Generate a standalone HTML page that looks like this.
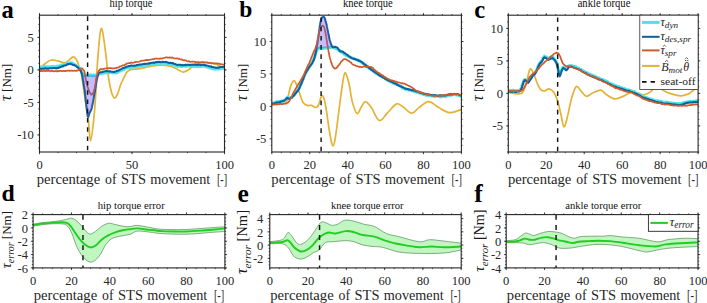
<!DOCTYPE html>
<html><head><meta charset="utf-8"><style>
html,body{margin:0;padding:0;background:#fff;}
svg{display:block;}
</style></head><body>
<svg width="707" height="303" viewBox="0 0 707 303" font-family="'Liberation Serif', serif">
<rect width="707" height="303" fill="#fff"/>
<clipPath id="clipa"><rect x="39.50" y="15.20" width="185.00" height="136.80"/></clipPath>
<clipPath id="clipb"><rect x="271.80" y="15.20" width="189.60" height="136.80"/></clipPath>
<clipPath id="clipc"><rect x="508.30" y="15.20" width="189.80" height="136.80"/></clipPath>
<clipPath id="clipd"><rect x="33.10" y="214.60" width="191.80" height="53.30"/></clipPath>
<clipPath id="clipe"><rect x="269.80" y="214.60" width="191.40" height="53.30"/></clipPath>
<clipPath id="clipf"><rect x="506.20" y="214.60" width="191.80" height="53.30"/></clipPath>
<path d="M39.60,68.40 C40.50,67.63 43.07,65.20 45.00,63.80 C46.93,62.40 49.07,60.48 51.20,60.00 C53.33,59.52 55.55,60.42 57.80,60.90 C60.05,61.38 62.88,62.98 64.70,62.90 C66.52,62.82 67.30,61.40 68.70,60.40 C70.10,59.40 71.78,56.98 73.10,56.90 C74.42,56.82 75.60,58.25 76.60,59.90 C77.60,61.55 78.27,64.17 79.10,66.80 C79.93,69.43 80.70,71.00 81.60,75.70 C82.50,80.40 83.38,87.62 84.50,95.00 C85.62,102.38 87.28,112.37 88.30,120.00 C89.32,127.63 89.70,140.80 90.60,140.80 C91.50,140.80 92.85,127.63 93.70,120.00 C94.55,112.37 95.13,103.60 95.70,95.00 C96.27,86.40 96.72,74.95 97.10,68.40 C97.48,61.85 97.62,60.47 98.00,55.70 C98.38,50.93 99.02,43.72 99.40,39.80 C99.78,35.88 99.95,34.10 100.30,32.20 C100.65,30.30 101.10,28.40 101.50,28.40 C101.90,28.40 102.30,30.30 102.70,32.20 C103.10,34.10 103.35,35.88 103.90,39.80 C104.45,43.72 105.43,51.00 106.00,55.70 C106.57,60.40 106.87,64.28 107.30,68.00 C107.73,71.72 108.08,74.72 108.60,78.00 C109.12,81.28 109.75,84.82 110.40,87.70 C111.05,90.58 111.82,93.57 112.50,95.30 C113.18,97.03 113.70,98.22 114.50,98.10 C115.30,97.98 116.25,96.92 117.30,94.60 C118.35,92.28 119.87,86.67 120.80,84.20 C121.73,81.73 121.93,81.77 122.90,79.80 C123.87,77.83 125.37,74.10 126.60,72.40 C127.83,70.70 128.73,70.15 130.30,69.60 C131.87,69.05 134.38,69.27 136.00,69.10 C137.62,68.93 138.50,68.85 140.00,68.60 C141.50,68.35 142.92,68.05 145.00,67.60 C147.08,67.15 149.72,66.32 152.50,65.90 C155.28,65.48 158.63,65.02 161.70,65.10 C164.77,65.18 168.52,65.82 170.90,66.40 C173.28,66.98 174.65,67.97 176.00,68.60 C177.35,69.23 177.73,69.60 179.00,70.20 C180.27,70.80 181.92,72.33 183.60,72.20 C185.28,72.07 187.42,70.55 189.10,69.40 C190.78,68.25 192.47,66.33 193.70,65.30 C194.93,64.27 194.48,63.65 196.50,63.20 C198.52,62.75 202.72,62.48 205.80,62.60 C208.88,62.72 212.68,63.30 215.00,63.90 C217.32,64.50 218.12,65.28 219.70,66.20 C221.28,67.12 223.70,68.87 224.50,69.40" stroke="#e5b235" stroke-width="1.70" fill="none" stroke-linejoin="round" stroke-linecap="round" clip-path="url(#clipa)"/>
<path d="M39.60,67.04 L40.17,67.32 L40.95,67.11 L41.87,67.30 L42.88,67.27 L43.93,66.66 L44.96,66.56 L45.90,67.34 L46.78,66.72 L47.67,66.65 L48.54,67.37 L49.42,66.80 L50.28,67.12 L51.15,66.72 L52.00,66.84 L52.85,66.32 L53.70,66.78 L54.55,67.00 L55.39,66.64 L56.21,66.81 L57.02,66.68 L57.80,65.96 L58.67,66.48 L59.49,66.09 L60.29,65.55 L61.10,65.01 L61.92,65.55 L62.80,64.87 L63.61,64.85 L64.48,64.70 L65.37,64.20 L66.26,64.09 L67.13,63.27 L67.95,63.45 L68.70,62.94 L69.62,63.35 L70.44,63.32 L71.20,62.65 L71.94,62.88 L72.70,63.22 L73.50,64.30 L74.31,64.21 L75.11,64.89 L75.88,65.09 L76.60,65.81 L77.27,66.18 L77.89,66.64 L78.49,67.39 L79.05,67.95 L79.60,68.90 L80.12,69.43 L80.62,70.52 L81.10,71.32 L81.56,72.28 L82.00,72.67 L82.55,73.13 L83.05,74.60 L84.00,75.26 L84.64,75.37 L85.41,75.13 L86.27,75.34 L87.18,74.87 L88.13,75.50 L89.08,75.25 L90.00,74.98 L90.82,74.79 L91.69,75.61 L92.59,75.78 L93.48,74.90 L94.35,75.62 L95.16,75.22 L95.89,74.92 L96.50,74.99 L97.56,75.07 L98.14,74.62 L98.80,73.34 L99.70,73.70 L100.66,73.01 L101.70,73.52 L102.53,72.91 L103.39,73.19 L104.31,73.04 L105.30,72.41 L106.17,72.87 L107.11,72.21 L108.08,72.04 L109.06,72.64 L110.00,72.13 L110.93,72.37 L111.86,72.69 L112.78,72.99 L113.67,72.58 L114.50,72.44 L115.44,73.11 L116.29,72.30 L117.12,72.62 L118.00,72.20 L118.76,71.36 L119.55,71.08 L120.34,70.76 L121.13,70.50 L121.90,70.10 L122.82,69.64 L123.71,69.28 L124.59,69.21 L125.50,68.41 L126.41,67.98 L127.33,67.93 L128.28,67.16 L129.30,67.00 L130.11,67.59 L130.90,67.13 L131.75,67.17 L132.76,66.61 L134.00,66.92 L134.67,67.00 L135.40,66.34 L136.18,66.82 L137.01,66.71 L137.87,66.00 L138.76,66.43 L139.66,66.13 L140.56,66.19 L141.46,65.72 L142.34,65.94 L143.20,65.84 L144.04,64.99 L144.89,64.90 L145.73,65.39 L146.58,65.54 L147.43,64.70 L148.27,64.77 L149.12,64.78 L149.97,64.38 L150.81,64.30 L151.66,64.13 L152.50,64.07 L153.34,64.18 L154.18,63.75 L155.02,63.70 L155.85,63.96 L156.69,63.08 L157.52,63.50 L158.36,63.56 L159.19,63.04 L160.03,62.88 L160.86,63.42 L161.70,62.84 L162.54,62.80 L163.40,63.09 L164.27,63.42 L165.13,62.91 L166.00,63.23 L166.86,63.36 L167.71,63.98 L168.54,63.72 L169.36,64.28 L170.14,63.73 L170.90,64.04 L171.77,64.54 L172.58,64.99 L173.34,64.80 L174.08,64.82 L174.81,64.96 L175.55,65.61 L176.31,65.48 L177.13,66.27 L178.00,66.44 L178.76,65.85 L179.56,65.99 L180.38,66.54 L181.22,66.38 L182.08,66.53 L182.96,66.05 L183.83,65.81 L184.71,65.94 L185.59,66.42 L186.45,65.88 L187.30,65.95 L188.14,66.02 L188.98,66.01 L189.81,66.00 L190.65,66.50 L191.48,65.73 L192.32,65.57 L193.15,66.51 L193.99,66.44 L194.82,66.56 L195.66,66.02 L196.50,66.55 L197.34,66.55 L198.19,65.86 L199.03,66.40 L199.88,66.51 L200.73,66.36 L201.57,66.24 L202.42,66.05 L203.27,66.16 L204.11,66.12 L204.96,66.05 L205.80,66.69 L206.66,66.54 L207.54,67.25 L208.43,66.71 L209.33,67.82 L210.23,67.86 L211.11,68.35 L211.97,68.58 L212.80,68.81 L213.58,68.69 L214.32,68.29 L215.00,69.15 L216.08,68.68 L217.00,68.81 L217.79,69.11 L218.53,68.86 L219.24,68.62 L220.00,69.04 L221.00,68.57 L222.05,68.12 L223.05,67.84 L223.90,68.28 L224.50,67.78" stroke="#4fe3e6" stroke-width="3.00" fill="none" stroke-linejoin="round" stroke-linecap="round" clip-path="url(#clipa)"/>
<path d="M39.60,68.69 L40.17,68.76 L40.95,68.79 L41.87,68.88 L42.88,68.72 L43.93,68.83 L44.96,68.19 L45.90,68.48 L46.78,68.79 L47.67,68.56 L48.54,68.71 L49.42,68.13 L50.28,68.35 L51.15,68.16 L52.00,68.33 L52.85,68.33 L53.70,67.92 L54.55,68.05 L55.39,68.08 L56.21,68.48 L57.02,68.30 L57.80,67.76 L58.67,68.01 L59.49,67.31 L60.29,67.36 L61.10,66.71 L61.92,66.29 L62.80,66.56 L63.61,65.77 L64.48,65.38 L65.37,65.51 L66.26,65.02 L67.13,64.25 L67.95,64.42 L68.70,63.93 L69.62,63.91 L70.44,63.59 L71.20,64.23 L71.94,64.27 L72.70,64.73 L73.50,65.03 L74.31,65.08 L75.11,65.64 L75.88,66.05 L76.60,66.55 L77.43,67.06 L78.20,67.77 L78.92,68.60 L79.60,68.95 L80.03,69.99 L80.43,70.32 L80.82,70.93 L81.19,72.03 L81.55,72.72 L81.90,73.77 L82.05,74.49 L82.20,75.33 L82.35,75.62 L82.50,77.06 L82.64,77.23 L82.78,78.61 L82.93,79.56 L83.06,79.87 L83.20,81.30 L83.33,81.87 L83.45,82.85 L83.57,83.24 L83.69,84.01 L83.80,84.78 L83.98,86.34 L84.13,86.70 L84.28,87.87 L84.41,88.73 L84.53,89.46 L84.65,89.79 L84.77,90.64 L84.90,91.72 L84.98,92.59 L85.06,92.83 L85.13,94.01 L85.20,94.79 L85.27,95.60 L85.34,95.81 L85.42,97.27 L85.50,97.52 L85.58,98.59 L85.68,99.70 L85.78,100.88 L85.90,101.49 L85.99,102.63 L86.08,103.17 L86.18,103.88 L86.28,104.80 L86.39,105.66 L86.51,106.58 L86.62,107.64 L86.74,109.02 L86.86,110.24 L86.98,110.63 L87.11,111.49 L87.23,113.05 L87.35,113.58 L87.46,114.26 L87.58,114.84 L87.69,115.69 L87.80,116.35 L87.90,116.47 L88.31,116.91 L88.68,115.71 L89.06,114.74 L89.50,112.67 L89.79,112.40 L90.09,112.11 L90.40,111.06 L90.73,110.84 L91.07,110.20 L91.43,108.94 L91.80,107.70 L91.94,106.66 L92.08,106.27 L92.22,105.41 L92.37,105.18 L92.52,104.04 L92.68,103.36 L92.84,102.93 L93.00,101.98 L93.16,101.21 L93.32,99.97 L93.48,99.11 L93.64,98.39 L93.80,97.34 L93.95,96.33 L94.10,95.55 L94.25,94.53 L94.40,93.87 L94.54,93.51 L94.67,92.74 L94.80,91.79 L94.96,90.78 L95.12,89.76 L95.26,88.70 L95.41,87.95 L95.54,87.44 L95.67,86.66 L95.80,85.48 L95.92,84.97 L96.05,84.18 L96.17,83.36 L96.29,82.60 L96.42,81.95 L96.54,80.99 L96.67,80.57 L96.80,79.65 L97.04,78.68 L97.28,77.86 L97.51,76.86 L97.74,75.73 L97.98,75.42 L98.24,74.52 L98.51,73.87 L98.80,72.96 L99.67,72.57 L100.65,72.19 L101.70,72.32 L102.53,71.87 L103.39,71.79 L104.31,71.39 L105.30,71.31 L106.17,70.95 L107.11,71.18 L108.08,71.32 L109.06,71.46 L110.00,71.20 L110.93,71.62 L111.86,71.74 L112.78,71.71 L113.67,71.96 L114.50,71.92 L115.44,71.45 L116.29,71.20 L117.12,70.62 L118.00,70.74 L118.76,70.49 L119.55,69.80 L120.34,69.57 L121.13,69.21 L121.90,68.86 L122.82,68.05 L123.71,68.06 L124.59,67.52 L125.50,67.22 L126.41,66.69 L127.33,66.50 L128.28,66.31 L129.30,66.00 L130.11,65.97 L130.90,65.47 L131.75,65.58 L132.76,65.76 L134.00,65.81 L134.67,65.42 L135.40,65.65 L136.18,65.50 L137.01,64.96 L137.87,65.12 L138.76,64.81 L139.66,64.55 L140.56,64.46 L141.46,64.44 L142.34,64.21 L143.20,64.09 L144.04,63.85 L144.89,64.02 L145.73,63.83 L146.58,63.86 L147.43,63.71 L148.27,63.33 L149.12,63.67 L149.97,62.91 L150.81,63.07 L151.66,62.86 L152.50,62.84 L153.34,62.51 L154.18,62.88 L155.02,62.43 L155.85,62.06 L156.69,62.34 L157.52,61.85 L158.36,62.06 L159.19,61.82 L160.03,61.92 L160.86,62.14 L161.70,62.02 L162.54,61.76 L163.40,62.07 L164.27,62.02 L165.13,61.91 L166.00,61.86 L166.86,62.29 L167.71,62.39 L168.54,62.80 L169.36,62.95 L170.14,62.84 L170.90,62.80 L171.77,63.36 L172.58,62.96 L173.34,63.27 L174.08,63.84 L174.81,64.12 L175.55,64.03 L176.31,64.58 L177.13,64.94 L178.00,64.71 L178.76,64.82 L179.56,64.72 L180.38,64.79 L181.22,65.27 L182.08,64.84 L182.96,65.23 L183.83,65.17 L184.71,64.92 L185.59,64.66 L186.45,65.14 L187.30,64.80 L188.14,64.74 L188.98,64.67 L189.81,65.13 L190.65,64.77 L191.48,64.62 L192.32,64.75 L193.15,64.50 L193.99,64.85 L194.82,64.73 L195.66,64.64 L196.50,65.00 L197.34,65.05 L198.19,64.50 L199.03,64.87 L199.88,64.71 L200.73,65.20 L201.57,65.12 L202.42,64.79 L203.27,64.86 L204.11,64.85 L204.96,65.53 L205.80,65.16 L206.66,65.53 L207.54,65.63 L208.43,65.97 L209.33,66.19 L210.23,66.54 L211.11,66.36 L211.97,67.06 L212.80,66.97 L213.58,67.34 L214.32,67.37 L215.00,67.46 L216.08,67.73 L217.00,67.69 L217.79,67.55 L218.53,67.70 L219.24,67.47 L220.00,66.98 L221.00,66.99 L222.05,66.95 L223.05,67.08 L223.90,66.89 L224.50,66.53" stroke="#105e9e" stroke-width="2.00" fill="none" stroke-linejoin="round" stroke-linecap="round" clip-path="url(#clipa)"/>
<path d="M39.60,70.98 L40.10,70.86 L40.74,71.21 L41.48,70.80 L42.31,71.13 L43.22,71.01 L44.18,70.79 L45.17,71.11 L46.18,70.78 L47.18,71.05 L48.17,70.80 L49.11,70.81 L50.00,71.05 L50.85,71.33 L51.69,70.84 L52.53,70.91 L53.36,71.20 L54.20,71.43 L55.02,71.17 L55.85,71.05 L56.68,71.46 L57.51,70.80 L58.34,71.37 L59.17,70.96 L60.00,70.85 L60.84,70.82 L61.69,70.93 L62.56,71.27 L63.42,70.80 L64.29,71.05 L65.15,71.07 L66.00,70.85 L66.84,70.94 L67.67,70.58 L68.47,70.55 L69.25,70.62 L70.00,70.93 L70.98,70.72 L71.95,70.63 L72.90,70.80 L73.83,70.70 L74.71,70.58 L75.54,70.89 L76.31,70.79 L77.00,70.41 L77.60,70.55 L78.81,70.08 L79.45,69.75 L80.00,69.16 L80.86,68.33 L81.60,68.64 L82.31,68.43 L83.00,69.44 L83.50,70.21 L84.00,70.47 L84.50,71.99 L84.64,72.25 L84.78,73.37 L84.91,74.18 L85.03,74.86 L85.16,75.92 L85.29,76.41 L85.43,77.56 L85.58,78.38 L85.73,79.23 L85.90,79.97 L86.08,81.05 L86.28,81.96 L86.48,82.48 L86.69,83.46 L86.91,83.88 L87.13,85.16 L87.36,85.92 L87.58,86.94 L87.79,87.55 L88.00,87.85 L88.34,88.97 L88.68,90.13 L89.02,90.56 L89.35,91.66 L89.68,92.16 L90.00,92.73 L90.62,93.67 L91.21,94.77 L91.80,94.44 L92.39,94.01 L92.97,93.11 L93.50,92.26 L93.77,91.07 L94.02,90.72 L94.25,90.07 L94.50,89.33 L94.80,87.92 L94.92,87.33 L95.04,86.20 L95.17,85.51 L95.29,84.61 L95.43,84.07 L95.56,83.19 L95.70,81.67 L95.84,80.73 L95.99,79.81 L96.14,78.89 L96.30,78.18 L96.46,77.41 L96.63,76.42 L96.80,75.55 L97.10,74.77 L97.40,73.77 L97.70,73.03 L98.03,72.50 L98.38,71.61 L98.76,70.86 L99.20,70.37 L99.70,69.92 L100.37,69.05 L101.13,69.35 L101.96,69.09 L102.82,69.05 L103.69,68.94 L104.52,68.60 L105.30,68.53 L106.30,68.21 L107.25,68.52 L108.18,68.10 L109.09,68.10 L110.00,68.20 L110.93,68.20 L111.86,68.40 L112.78,68.28 L113.67,68.29 L114.50,68.36 L115.44,68.15 L116.29,68.07 L117.12,67.51 L118.00,67.76 L118.76,67.29 L119.55,66.65 L120.34,66.38 L121.13,66.11 L121.90,65.80 L122.82,65.25 L123.71,65.38 L124.59,65.10 L125.50,64.38 L126.23,64.10 L126.96,63.54 L127.71,63.28 L128.48,63.20 L129.30,62.94 L130.11,63.19 L130.90,62.64 L131.75,62.47 L132.76,63.01 L134.00,62.52 L134.67,62.13 L135.40,62.26 L136.18,61.73 L137.01,61.90 L137.87,62.03 L138.76,61.76 L139.66,61.45 L140.56,60.95 L141.46,60.84 L142.34,60.53 L143.20,60.79 L144.04,60.47 L144.89,60.50 L145.73,60.05 L146.58,59.84 L147.43,60.12 L148.27,60.11 L149.12,59.90 L149.97,59.75 L150.81,59.64 L151.66,59.47 L152.50,59.01 L153.35,59.11 L154.20,58.90 L155.06,58.59 L155.93,58.51 L156.79,58.60 L157.65,58.51 L158.49,58.74 L159.32,58.85 L160.14,58.42 L160.93,58.69 L161.70,58.64 L162.61,58.51 L163.48,57.97 L164.34,57.74 L165.17,57.61 L165.98,57.46 L166.77,57.36 L167.56,57.57 L168.33,57.70 L169.10,57.64 L169.96,57.41 L170.81,57.61 L171.66,57.82 L172.48,57.46 L173.28,58.01 L174.06,58.33 L174.80,58.38 L175.50,58.48 L176.48,58.42 L177.30,58.30 L178.09,58.83 L178.95,58.66 L180.00,59.21 L180.68,59.51 L181.40,59.32 L182.16,59.57 L182.95,60.22 L183.77,60.33 L184.62,60.21 L185.50,60.43 L186.39,60.67 L187.30,61.38 L188.06,61.44 L188.86,61.09 L189.67,61.67 L190.50,61.87 L191.35,61.72 L192.20,61.58 L193.07,61.79 L193.93,61.56 L194.80,61.54 L195.65,62.27 L196.50,62.10 L197.34,62.08 L198.19,62.41 L199.03,62.11 L199.88,62.45 L200.73,62.46 L201.57,62.07 L202.42,62.13 L203.27,62.20 L204.11,62.21 L204.96,62.50 L205.80,62.33 L206.64,62.51 L207.47,62.37 L208.31,62.99 L209.14,62.67 L209.97,62.82 L210.80,62.99 L211.64,63.30 L212.47,63.05 L213.31,63.49 L214.15,63.30 L215.00,63.42 L215.81,63.52 L216.68,63.28 L217.58,63.71 L218.50,63.66 L219.42,63.67 L220.32,64.37 L221.20,64.06 L222.03,64.40 L222.79,64.69 L223.46,64.68 L224.04,64.61 L224.50,64.81" stroke="#cf5a2a" stroke-width="1.70" fill="none" stroke-linejoin="round" stroke-linecap="round" clip-path="url(#clipa)"/>
<path d="M272.00,104.60 C273.87,104.45 280.70,104.38 283.20,103.70 C285.70,103.02 285.77,103.38 287.00,100.50 C288.23,97.62 289.45,89.72 290.60,86.40 C291.75,83.08 292.93,80.92 293.90,80.60 C294.87,80.28 295.43,82.33 296.40,84.50 C297.37,86.67 298.62,90.65 299.70,93.60 C300.78,96.55 301.65,100.23 302.90,102.20 C304.15,104.17 305.77,104.87 307.20,105.40 C308.63,105.93 310.07,105.05 311.50,105.40 C312.93,105.75 314.62,107.57 315.80,107.50 C316.98,107.43 317.82,106.50 318.60,105.00 C319.38,103.50 319.90,100.08 320.50,98.50 C321.10,96.92 321.62,95.50 322.20,95.50 C322.78,95.50 323.37,96.42 324.00,98.50 C324.63,100.58 325.25,103.58 326.00,108.00 C326.75,112.42 327.70,119.83 328.50,125.00 C329.30,130.17 330.07,135.50 330.80,139.00 C331.53,142.50 332.18,146.00 332.90,146.00 C333.62,146.00 334.33,143.00 335.10,139.00 C335.87,135.00 336.68,128.17 337.50,122.00 C338.32,115.83 339.07,109.00 340.00,102.00 C340.93,95.00 342.27,84.88 343.10,80.00 C343.93,75.12 344.27,73.03 345.00,72.70 C345.73,72.37 346.75,75.78 347.50,78.00 C348.25,80.22 348.70,82.02 349.50,86.00 C350.30,89.98 351.05,97.32 352.30,101.90 C353.55,106.48 355.45,112.72 357.00,113.50 C358.55,114.28 360.20,108.58 361.60,106.60 C363.00,104.62 363.80,101.48 365.40,101.60 C367.00,101.72 368.90,104.15 371.20,107.30 C373.50,110.45 376.52,119.53 379.20,120.50 C381.88,121.47 384.40,115.87 387.30,113.10 C390.20,110.33 393.90,104.87 396.60,103.90 C399.30,102.93 400.95,105.75 403.50,107.30 C406.05,108.85 409.33,113.15 411.90,113.20 C414.47,113.25 416.08,109.52 418.90,107.60 C421.72,105.68 425.50,101.70 428.80,101.70 C432.10,101.70 435.23,105.78 438.70,107.60 C442.17,109.42 445.88,112.27 449.60,112.60 C453.32,112.93 459.10,110.10 461.00,109.60" stroke="#e5b235" stroke-width="1.70" fill="none" stroke-linejoin="round" stroke-linecap="round" clip-path="url(#clipb)"/>
<path d="M272.00,102.94 L272.49,103.14 L273.13,102.83 L273.90,102.89 L274.76,102.73 L275.66,101.97 L276.58,101.72 L277.47,102.34 L278.30,101.56 L279.11,101.34 L279.97,101.91 L280.84,101.19 L281.70,101.36 L282.53,100.79 L283.31,100.73 L284.00,100.01 L284.60,100.23 L285.46,99.80 L286.00,98.66 L286.42,98.17 L286.90,97.67 L287.67,97.18 L288.43,98.38 L289.20,98.49 L289.96,98.00 L290.73,97.29 L291.50,97.57 L292.10,96.69 L292.70,96.38 L293.30,95.92 L293.90,95.11 L294.48,94.64 L295.06,93.38 L295.63,93.04 L296.20,91.94 L296.77,91.75 L297.35,91.04 L297.93,89.54 L298.50,88.74 L298.88,88.16 L299.27,88.20 L299.65,86.92 L300.03,86.31 L300.42,85.16 L300.80,84.51 L301.13,83.62 L301.46,82.78 L301.79,82.18 L302.11,81.33 L302.44,80.79 L302.77,79.72 L303.10,79.13 L303.43,78.22 L303.75,77.51 L304.07,76.35 L304.39,75.00 L304.72,74.88 L305.06,74.20 L305.40,73.40 L305.79,72.31 L306.16,71.80 L306.53,70.69 L306.94,70.66 L307.42,69.67 L308.00,68.48 L308.37,67.68 L308.80,67.84 L309.27,67.29 L309.76,65.67 L310.27,65.63 L310.78,64.49 L311.29,63.47 L311.77,62.86 L312.23,62.61 L312.64,62.02 L313.00,60.54 L313.46,60.16 L313.84,58.69 L314.15,58.50 L314.42,57.28 L314.67,57.01 L314.92,56.30 L315.20,55.01 L315.49,54.65 L315.76,53.07 L316.03,51.95 L316.30,51.62 L316.58,50.27 L316.87,49.75 L317.20,49.41 L318.07,48.89 L319.02,48.20 L320.00,47.94 L320.91,48.61 L321.84,47.99 L323.00,48.56 L323.74,48.44 L324.59,47.86 L325.50,47.89 L326.41,47.88 L327.26,47.93 L328.00,47.80 L329.17,47.52 L330.11,47.31 L331.00,47.44 L331.73,46.81 L332.40,46.62 L333.50,47.22 L334.04,47.00 L334.65,47.40 L335.33,48.49 L336.06,48.48 L336.82,48.99 L337.59,48.96 L338.35,49.87 L339.10,50.52 L339.80,50.42 L340.54,51.51 L341.25,52.03 L341.95,51.96 L342.64,53.03 L343.35,53.37 L344.09,54.08 L344.86,54.26 L345.70,55.11 L346.36,55.50 L347.06,55.16 L347.79,55.58 L348.54,56.57 L349.31,57.24 L350.09,56.90 L350.86,57.47 L351.61,57.95 L352.34,58.02 L353.04,58.37 L353.70,58.61 L354.66,59.06 L355.58,59.62 L356.44,59.60 L357.27,59.95 L358.07,60.61 L358.84,60.17 L359.60,61.07 L360.34,61.66 L361.05,61.70 L361.73,62.11 L362.39,63.19 L363.02,63.13 L363.62,63.55 L364.20,64.24 L364.90,65.00 L365.48,64.82 L366.05,65.45 L366.69,65.93 L367.50,67.03 L368.02,67.04 L368.55,67.88 L369.10,67.64 L369.68,68.29 L370.31,69.11 L370.99,69.88 L371.75,70.01 L372.58,70.39 L373.50,70.92 L374.07,71.71 L374.67,71.78 L375.31,72.81 L375.99,73.29 L376.68,73.09 L377.41,73.65 L378.15,74.65 L378.90,74.96 L379.67,75.61 L380.44,75.63 L381.21,75.89 L381.99,76.52 L382.76,77.49 L383.52,77.42 L384.27,77.93 L385.00,78.42 L385.73,78.83 L386.46,79.22 L387.20,80.13 L387.95,79.75 L388.70,79.99 L389.45,81.31 L390.20,81.62 L390.94,82.10 L391.69,81.91 L392.42,82.79 L393.15,83.12 L393.87,82.77 L394.57,83.64 L395.26,84.07 L395.94,84.23 L396.60,84.42 L397.45,84.62 L398.27,85.11 L399.07,85.42 L399.85,85.68 L400.61,86.61 L401.36,86.71 L402.10,87.62 L402.83,87.22 L403.56,88.44 L404.30,88.57 L405.04,89.12 L405.80,89.40 L406.63,89.70 L407.45,89.64 L408.27,89.31 L409.08,90.25 L409.90,89.87 L410.72,90.19 L411.54,90.73 L412.36,90.78 L413.20,90.86 L414.04,91.60 L414.90,91.51 L415.70,91.48 L416.50,91.64 L417.32,92.52 L418.14,92.41 L418.97,92.99 L419.80,92.84 L420.63,92.96 L421.47,93.57 L422.31,94.12 L423.14,93.72 L423.97,94.58 L424.80,94.92 L425.62,95.01 L426.45,95.22 L427.28,94.59 L428.10,95.38 L428.93,95.79 L429.75,95.13 L430.57,95.50 L431.40,95.64 L432.23,96.02 L433.05,96.03 L433.88,96.18 L434.70,96.58 L435.54,95.88 L436.42,95.99 L437.31,96.12 L438.22,96.15 L439.12,96.13 L440.02,97.05 L440.89,96.94 L441.74,96.17 L442.54,96.57 L443.29,96.37 L443.98,96.35 L444.60,96.35 L445.72,96.52 L446.44,96.26 L447.00,95.80 L447.64,95.39 L448.60,95.33 L449.33,95.02 L450.16,95.34 L451.07,95.38 L452.03,94.93 L453.01,94.52 L453.97,94.54 L454.90,94.68 L455.75,94.88 L456.50,95.08 L457.69,94.86 L458.76,95.61 L459.69,95.83 L460.44,95.99 L461.00,96.17" stroke="#4fe3e6" stroke-width="3.00" fill="none" stroke-linejoin="round" stroke-linecap="round" clip-path="url(#clipb)"/>
<path d="M272.00,103.79 L272.49,103.76 L273.13,103.66 L273.90,103.60 L274.76,103.27 L275.66,103.20 L276.58,102.37 L277.47,102.47 L278.30,102.61 L279.11,102.21 L279.97,102.20 L280.84,101.45 L281.70,101.50 L282.53,101.14 L283.31,101.13 L284.00,100.91 L284.60,100.26 L285.46,99.73 L286.00,98.98 L286.42,98.72 L286.90,98.19 L287.67,97.88 L288.43,98.83 L289.20,98.65 L289.96,98.78 L290.73,98.00 L291.50,97.35 L292.10,97.48 L292.70,96.45 L293.30,95.84 L293.90,95.74 L294.48,94.98 L295.06,93.84 L295.63,93.56 L296.20,92.53 L296.77,91.94 L297.35,90.95 L297.93,90.75 L298.50,89.73 L298.88,89.27 L299.27,88.51 L299.65,87.34 L300.03,86.59 L300.42,85.62 L300.80,84.75 L301.13,83.93 L301.46,83.29 L301.79,82.67 L302.11,81.39 L302.44,81.01 L302.77,79.92 L303.10,79.07 L303.43,78.59 L303.75,77.51 L304.07,76.55 L304.39,75.83 L304.72,75.17 L305.06,73.93 L305.40,73.83 L305.79,72.41 L306.16,72.26 L306.53,71.72 L306.94,70.50 L307.42,70.30 L308.00,69.11 L308.37,68.68 L308.80,67.65 L309.27,67.00 L309.76,66.38 L310.27,66.18 L310.78,64.90 L311.29,64.53 L311.77,63.91 L312.23,63.18 L312.64,62.06 L313.00,61.40 L313.41,60.66 L313.76,60.02 L314.06,58.77 L314.31,58.44 L314.54,57.70 L314.76,56.95 L314.97,55.55 L315.20,55.31 L315.38,53.99 L315.56,53.43 L315.72,52.88 L315.88,52.34 L316.03,51.17 L316.18,50.78 L316.33,49.70 L316.48,48.68 L316.64,47.80 L316.80,46.77 L316.93,45.96 L317.06,45.23 L317.19,44.80 L317.32,44.18 L317.46,42.75 L317.59,41.81 L317.72,41.59 L317.86,40.39 L317.99,39.42 L318.12,38.42 L318.25,37.79 L318.38,37.08 L318.50,35.97 L318.62,35.09 L318.74,33.95 L318.86,33.65 L318.98,32.12 L319.10,31.54 L319.22,30.87 L319.33,29.48 L319.45,29.03 L319.56,28.33 L319.67,27.29 L319.78,26.62 L319.89,25.41 L320.00,24.95 L320.19,23.60 L320.38,23.05 L320.56,21.73 L320.74,21.00 L320.92,20.63 L321.11,19.85 L321.30,19.33 L321.79,17.91 L322.29,17.32 L322.80,17.16 L323.56,16.95 L324.30,17.45 L324.65,18.17 L324.98,18.84 L325.30,19.96 L325.60,21.34 L325.81,22.04 L326.00,22.51 L326.19,23.17 L326.38,23.90 L326.60,24.71 L326.75,25.55 L326.91,26.67 L327.08,27.54 L327.26,28.04 L327.44,29.22 L327.62,30.13 L327.81,31.00 L328.00,31.91 L328.16,32.76 L328.32,33.31 L328.49,34.40 L328.66,34.98 L328.83,36.00 L329.01,37.07 L329.18,37.86 L329.36,38.40 L329.53,39.62 L329.70,40.10 L329.98,41.11 L330.27,41.66 L330.56,42.90 L330.84,43.48 L331.12,44.48 L331.40,44.97 L331.91,46.30 L332.40,46.95 L333.00,47.51 L333.77,47.13 L334.63,46.95 L335.50,46.87 L336.34,47.25 L337.17,47.48 L338.00,48.54 L338.60,49.27 L339.20,50.00 L339.80,51.03 L340.40,51.62 L341.20,51.60 L342.00,51.61 L342.90,51.57 L343.51,52.38 L344.16,52.89 L344.84,53.06 L345.53,53.73 L346.20,54.25 L346.85,54.75 L347.48,54.87 L348.12,55.81 L348.78,56.17 L349.50,56.72 L350.26,57.00 L351.03,57.59 L351.85,58.13 L352.74,58.46 L353.70,58.95 L354.47,58.77 L355.30,59.16 L356.18,59.64 L357.07,60.09 L357.96,60.09 L358.81,60.76 L359.60,61.09 L360.34,61.10 L361.05,61.87 L361.73,62.19 L362.39,62.58 L363.02,63.13 L363.62,63.74 L364.20,64.08 L364.90,64.59 L365.48,64.89 L366.05,65.60 L366.69,66.01 L367.50,66.78 L368.02,67.16 L368.55,67.34 L369.10,68.26 L369.68,68.10 L370.31,68.89 L370.99,69.34 L371.75,70.00 L372.58,70.39 L373.50,71.53 L374.07,71.59 L374.67,71.76 L375.31,72.59 L375.99,72.67 L376.68,73.44 L377.41,73.76 L378.15,74.41 L378.90,75.15 L379.67,75.54 L380.44,75.74 L381.21,76.49 L381.99,76.84 L382.76,77.11 L383.52,77.40 L384.27,78.15 L385.00,78.54 L385.73,79.22 L386.46,79.62 L387.20,79.76 L387.95,79.96 L388.70,80.71 L389.45,80.46 L390.20,80.89 L390.94,81.57 L391.69,81.96 L392.42,81.97 L393.15,82.66 L393.87,83.18 L394.57,83.15 L395.26,83.51 L395.94,83.69 L396.60,84.05 L397.45,84.95 L398.27,84.95 L399.07,85.77 L399.85,86.13 L400.61,86.30 L401.36,86.45 L402.10,87.33 L402.83,87.34 L403.56,87.63 L404.30,87.88 L405.04,88.65 L405.80,88.59 L406.63,88.73 L407.45,89.11 L408.27,89.07 L409.08,89.61 L409.90,89.66 L410.72,89.73 L411.54,90.23 L412.36,90.43 L413.20,90.04 L414.04,90.60 L414.90,90.64 L415.70,91.33 L416.50,91.47 L417.32,91.35 L418.14,91.63 L418.97,91.83 L419.80,92.69 L420.63,92.47 L421.47,92.96 L422.31,93.12 L423.14,93.48 L423.97,93.67 L424.80,93.97 L425.62,93.72 L426.45,94.34 L427.28,94.18 L428.10,94.49 L428.93,94.49 L429.75,94.60 L430.57,94.88 L431.40,94.94 L432.23,94.97 L433.05,95.33 L433.88,95.30 L434.70,94.98 L435.54,95.18 L436.42,95.36 L437.31,95.72 L438.22,95.71 L439.12,95.48 L440.02,95.10 L440.89,95.63 L441.74,95.36 L442.54,95.44 L443.29,95.51 L443.98,95.43 L444.60,95.29 L445.72,95.47 L446.44,94.94 L447.00,94.76 L447.64,94.90 L448.60,94.29 L449.33,94.28 L450.16,94.56 L451.07,93.93 L452.03,94.37 L453.01,94.19 L453.97,93.95 L454.90,93.81 L455.75,94.15 L456.50,94.29 L457.50,93.93 L458.42,94.45 L459.24,94.85 L459.96,95.18 L460.55,95.37 L461.00,95.46" stroke="#105e9e" stroke-width="2.00" fill="none" stroke-linejoin="round" stroke-linecap="round" clip-path="url(#clipb)"/>
<path d="M272.00,104.48 L272.48,104.33 L273.11,104.66 L273.86,104.23 L274.70,104.52 L275.59,104.37 L276.52,104.11 L277.46,104.38 L278.37,104.00 L279.22,104.22 L280.00,103.90 L280.91,103.83 L281.81,103.98 L282.69,104.18 L283.54,103.59 L284.36,103.54 L285.14,103.68 L285.85,103.73 L286.50,103.25 L287.36,102.75 L288.05,102.74 L288.63,101.58 L289.19,101.50 L289.80,100.25 L290.16,99.57 L290.50,98.91 L290.84,98.34 L291.18,97.93 L291.52,96.69 L291.88,96.14 L292.26,95.33 L292.66,94.28 L293.10,93.53 L293.45,92.53 L293.82,91.84 L294.21,91.24 L294.61,90.84 L295.02,89.93 L295.44,89.11 L295.87,88.55 L296.30,87.70 L296.73,86.85 L297.16,86.45 L297.58,85.66 L298.00,84.62 L298.42,84.15 L298.84,83.41 L299.28,82.95 L299.71,82.15 L300.15,81.15 L300.59,80.94 L301.02,79.65 L301.44,79.17 L301.85,78.72 L302.25,77.62 L302.64,77.17 L303.00,76.18 L303.41,75.80 L303.80,75.05 L304.16,74.10 L304.51,73.49 L304.85,72.29 L305.18,71.75 L305.50,70.88 L305.83,70.09 L306.16,69.23 L306.50,68.74 L306.88,68.00 L307.26,66.88 L307.64,66.25 L308.02,65.08 L308.40,64.78 L308.78,63.99 L309.15,63.46 L309.53,62.55 L309.90,61.35 L310.20,60.72 L310.51,60.20 L310.81,59.02 L311.11,58.58 L311.41,57.63 L311.71,56.83 L312.00,56.03 L312.30,55.76 L312.60,54.55 L312.90,53.88 L313.20,53.22 L313.51,52.81 L313.82,51.50 L314.14,51.01 L314.47,50.32 L314.79,49.80 L315.11,49.00 L315.42,48.27 L315.72,47.10 L316.00,46.45 L316.26,45.65 L316.50,45.27 L316.74,44.49 L316.94,43.09 L317.13,42.28 L317.30,41.48 L317.46,40.65 L317.60,40.00 L317.75,39.25 L317.89,38.21 L318.04,37.24 L318.20,36.74 L318.38,35.84 L318.56,35.08 L318.74,34.47 L318.91,33.40 L319.09,32.42 L319.26,31.68 L319.44,30.95 L319.62,29.81 L319.80,29.78 L320.23,28.54 L320.69,27.73 L321.12,27.02 L321.50,26.22 L322.02,25.77 L322.50,25.62 L323.16,26.06 L323.90,26.59 L324.10,27.13 L324.31,27.88 L324.52,28.58 L324.74,29.53 L324.96,30.22 L325.18,31.14 L325.39,32.23 L325.60,33.22 L325.74,34.11 L325.87,34.63 L326.00,36.01 L326.14,36.64 L326.27,37.15 L326.40,38.07 L326.53,39.00 L326.66,39.88 L326.80,40.58 L326.93,41.96 L327.06,42.91 L327.20,43.38 L327.34,44.22 L327.48,44.80 L327.62,45.67 L327.76,46.71 L327.91,47.53 L328.05,48.79 L328.19,49.17 L328.34,49.91 L328.48,51.37 L328.62,51.86 L328.76,52.34 L328.90,53.33 L329.10,53.96 L329.30,55.23 L329.49,56.40 L329.68,57.12 L329.88,57.78 L330.07,58.23 L330.28,59.05 L330.50,59.67 L330.76,60.97 L331.03,61.67 L331.31,62.70 L331.59,63.22 L331.89,63.92 L332.19,65.06 L332.50,65.84 L333.06,66.79 L333.64,67.68 L334.26,68.37 L334.90,68.67 L335.56,68.29 L336.25,68.17 L336.99,67.45 L337.80,66.37 L338.25,65.80 L338.75,65.26 L339.26,64.43 L339.79,63.87 L340.32,63.19 L340.84,62.02 L341.34,61.66 L341.80,61.14 L342.60,60.36 L343.31,59.49 L344.01,59.17 L344.80,59.11 L345.50,59.16 L346.24,59.36 L347.02,59.96 L347.84,60.57 L348.70,61.04 L349.27,61.18 L349.85,61.78 L350.45,62.42 L351.07,62.48 L351.71,63.46 L352.36,64.18 L353.02,64.58 L353.70,64.98 L354.51,65.18 L355.36,65.32 L356.23,66.05 L357.12,66.00 L357.98,66.55 L358.82,66.87 L359.60,66.63 L360.60,66.79 L361.53,67.24 L362.42,67.10 L363.29,66.69 L364.20,66.64 L365.16,66.59 L366.15,67.00 L367.13,66.80 L368.06,66.25 L368.90,66.73 L369.72,66.89 L370.36,66.77 L371.05,66.83 L372.00,67.53 L372.52,67.61 L373.05,67.96 L373.61,69.12 L374.21,69.44 L374.85,69.93 L375.56,70.83 L376.32,71.12 L377.17,72.09 L378.10,72.73 L378.67,72.69 L379.28,73.14 L379.92,73.61 L380.59,74.03 L381.29,74.75 L382.01,75.00 L382.75,75.60 L383.51,75.89 L384.27,76.92 L385.04,77.01 L385.82,77.55 L386.59,78.09 L387.36,78.74 L388.12,78.81 L388.87,79.54 L389.60,79.60 L390.39,79.97 L391.20,80.28 L392.04,80.24 L392.89,80.82 L393.75,80.91 L394.61,81.04 L395.46,81.83 L396.30,81.62 L397.12,82.04 L397.91,82.42 L398.66,82.49 L399.38,82.50 L400.04,82.80 L400.65,82.99 L401.20,83.30 L402.65,83.19 L403.46,83.64 L404.09,83.53 L405.00,83.84 L405.64,84.44 L406.32,84.54 L407.05,84.90 L407.81,85.39 L408.59,85.87 L409.37,85.93 L410.14,86.46 L410.90,86.80 L411.55,87.21 L412.19,87.76 L412.82,88.05 L413.46,88.57 L414.10,89.01 L414.76,89.81 L415.44,90.09 L416.15,90.66 L416.90,91.11 L417.60,90.98 L418.33,91.52 L419.07,92.12 L419.83,92.36 L420.61,92.18 L421.40,92.46 L422.22,92.97 L423.06,92.99 L423.92,93.37 L424.80,93.50 L425.55,94.12 L426.33,94.41 L427.13,94.68 L427.95,94.36 L428.78,94.94 L429.62,95.07 L430.47,94.88 L431.33,95.55 L432.18,95.74 L433.03,95.33 L433.87,95.94 L434.70,95.63 L435.53,95.74 L436.37,96.12 L437.22,96.01 L438.07,95.53 L438.93,95.68 L439.77,95.70 L440.62,95.52 L441.45,95.36 L442.27,95.38 L443.07,95.59 L443.85,95.03 L444.60,95.34 L445.56,95.16 L446.48,94.73 L447.36,94.80 L448.22,94.85 L449.06,94.62 L449.90,94.16 L450.74,94.68 L451.61,94.45 L452.50,94.53 L453.36,93.92 L454.30,94.06 L455.27,93.95 L456.26,94.54 L457.24,94.27 L458.18,94.26 L459.06,94.56 L459.83,94.98 L460.49,94.98 L461.00,94.63" stroke="#cf5a2a" stroke-width="1.70" fill="none" stroke-linejoin="round" stroke-linecap="round" clip-path="url(#clipb)"/>
<path d="M508.50,92.40 C509.42,92.58 512.10,93.27 514.00,93.50 C515.90,93.73 518.32,94.22 519.90,93.80 C521.48,93.38 522.33,93.30 523.50,91.00 C524.67,88.70 525.85,83.58 526.90,80.00 C527.95,76.42 528.95,71.08 529.80,69.50 C530.65,67.92 531.18,69.37 532.00,70.50 C532.82,71.63 533.82,74.13 534.70,76.30 C535.58,78.47 536.33,81.32 537.30,83.50 C538.27,85.68 539.28,88.15 540.50,89.40 C541.72,90.65 543.20,91.08 544.60,91.00 C546.00,90.92 547.35,88.63 548.90,88.90 C550.45,89.17 552.42,90.45 553.90,92.60 C555.38,94.75 556.65,98.28 557.80,101.80 C558.95,105.32 559.77,109.50 560.80,113.70 C561.83,117.90 562.85,126.68 564.00,127.00 C565.15,127.32 566.42,120.47 567.70,115.60 C568.98,110.73 570.27,102.65 571.70,97.80 C573.13,92.95 574.70,87.58 576.30,86.50 C577.90,85.42 579.63,89.67 581.30,91.30 C582.97,92.93 584.27,96.10 586.30,96.30 C588.33,96.50 591.08,93.53 593.50,92.50 C595.92,91.47 598.63,89.73 600.80,90.10 C602.97,90.47 604.17,93.25 606.50,94.70 C608.83,96.15 612.05,98.52 614.80,98.80 C617.55,99.08 620.27,97.50 623.00,96.40 C625.73,95.30 628.73,92.75 631.20,92.20 C633.67,91.65 635.87,92.65 637.80,93.10 C639.73,93.55 641.15,94.82 642.80,94.90 C644.45,94.98 646.20,94.32 647.70,93.60 C649.20,92.88 650.42,91.78 651.80,90.60 C653.18,89.42 654.63,87.18 656.00,86.50 C657.37,85.82 658.75,85.82 660.00,86.50 C661.25,87.18 661.60,89.37 663.50,90.60 C665.40,91.83 668.55,93.03 671.40,93.90 C674.25,94.77 677.75,95.80 680.60,95.80 C683.45,95.80 686.52,94.70 688.50,93.90 C690.48,93.10 690.92,92.15 692.50,91.00 C694.08,89.85 697.08,87.67 698.00,87.00" stroke="#e5b235" stroke-width="1.70" fill="none" stroke-linejoin="round" stroke-linecap="round" clip-path="url(#clipc)"/>
<path d="M508.50,90.14 L508.99,90.47 L509.65,90.33 L510.44,90.62 L511.32,90.70 L512.25,90.19 L513.20,90.19 L514.14,91.05 L515.03,90.49 L515.83,90.46 L516.50,91.20 L517.58,90.60 L518.47,90.89 L519.21,90.37 L519.87,90.21 L520.50,89.15 L520.87,89.10 L521.21,88.66 L521.51,87.54 L521.79,86.92 L522.06,85.99 L522.31,84.54 L522.55,84.45 L522.80,83.59 L523.18,82.30 L523.52,81.08 L523.84,81.06 L524.16,79.97 L524.50,79.72 L525.40,79.67 L526.30,80.01 L526.84,80.90 L527.38,81.22 L528.00,81.90 L528.45,81.21 L528.94,81.09 L529.46,80.26 L529.99,78.65 L530.50,77.94 L531.00,77.31 L531.51,77.32 L532.01,76.06 L532.51,75.55 L533.00,74.60 L533.55,74.30 L534.06,73.86 L534.62,73.35 L535.30,72.59 L535.60,72.01 L535.93,71.64 L536.28,70.62 L536.65,70.01 L537.03,69.03 L537.42,68.24 L537.80,67.01 L538.18,65.62 L538.54,65.50 L538.88,64.88 L539.20,64.20 L539.82,62.87 L540.37,62.34 L540.88,61.32 L541.39,61.45 L541.90,60.57 L542.40,59.43 L542.88,58.23 L543.36,58.06 L543.89,57.42 L544.50,56.09 L545.21,56.87 L546.00,56.94 L546.84,57.30 L547.68,58.01 L548.50,58.77 L549.31,58.76 L550.12,57.57 L550.93,57.71 L551.70,56.81 L552.40,57.42 L553.18,57.37 L553.87,58.55 L554.51,59.44 L555.10,59.81 L555.54,60.97 L555.94,60.98 L556.31,61.52 L556.66,62.91 L557.00,63.33 L557.20,64.21 L557.39,65.22 L557.57,66.28 L557.74,66.72 L557.90,67.50 L558.07,69.20 L558.23,69.47 L558.40,70.86 L558.66,72.00 L558.89,72.74 L559.13,73.93 L559.40,74.77 L559.70,75.14 L559.95,74.83 L560.22,74.19 L560.51,73.40 L560.81,72.74 L561.12,71.31 L561.41,70.33 L561.70,69.92 L562.16,68.49 L562.61,67.74 L563.07,67.84 L563.60,67.12 L564.20,67.45 L564.86,67.66 L565.56,68.78 L566.30,69.18 L566.91,68.24 L567.55,68.09 L568.21,67.23 L568.89,65.86 L569.60,65.93 L570.47,65.57 L571.35,65.84 L572.33,65.77 L573.50,66.51 L574.18,66.78 L574.92,66.35 L575.70,66.72 L576.52,67.70 L577.38,68.38 L578.24,68.09 L579.12,68.72 L580.00,69.29 L580.71,69.39 L581.44,69.82 L582.18,70.18 L582.93,70.66 L583.69,71.32 L584.45,71.46 L585.22,71.97 L585.98,72.78 L586.75,72.44 L587.50,73.37 L588.24,73.89 L588.96,73.81 L589.67,74.04 L590.38,74.94 L591.10,74.68 L591.83,74.94 L592.57,75.50 L593.35,76.09 L594.15,75.84 L595.00,76.42 L595.68,76.73 L596.39,77.53 L597.12,77.44 L597.87,78.17 L598.63,77.80 L599.41,78.29 L600.19,78.93 L600.98,79.49 L601.78,79.39 L602.57,79.50 L603.35,79.74 L604.13,80.49 L604.90,80.49 L605.66,81.46 L606.42,81.85 L607.18,81.56 L607.95,82.03 L608.71,82.94 L609.47,83.16 L610.23,83.70 L610.99,83.62 L611.75,83.77 L612.52,84.29 L613.28,85.14 L614.04,84.95 L614.80,85.35 L615.56,85.72 L616.32,86.00 L617.09,86.27 L617.85,87.04 L618.61,86.53 L619.37,86.62 L620.14,87.80 L620.90,87.97 L621.66,88.32 L622.42,88.00 L623.18,88.76 L623.94,88.98 L624.70,88.52 L625.52,89.32 L626.34,89.67 L627.15,89.75 L627.97,89.86 L628.79,89.88 L629.60,90.19 L630.41,90.34 L631.23,90.45 L632.05,91.25 L632.86,91.24 L633.68,92.08 L634.50,91.65 L635.25,92.83 L635.98,92.97 L636.70,93.56 L637.41,93.91 L638.12,94.30 L638.84,94.37 L639.56,94.21 L640.30,95.34 L641.06,95.16 L641.85,95.68 L642.66,96.43 L643.51,96.67 L644.40,96.91 L645.07,97.69 L645.77,97.62 L646.48,97.61 L647.22,97.78 L647.97,98.64 L648.73,98.51 L649.51,99.07 L650.30,98.89 L651.09,98.98 L651.89,99.56 L652.70,100.08 L653.50,99.66 L654.30,100.50 L655.10,100.85 L655.89,100.94 L656.67,101.16 L657.44,100.53 L658.20,101.33 L659.05,101.75 L659.91,101.11 L660.77,101.50 L661.64,101.66 L662.50,102.06 L663.37,102.10 L664.23,102.28 L665.09,102.70 L665.93,102.04 L666.77,102.20 L667.59,102.38 L668.40,102.47 L669.18,102.51 L669.95,103.51 L670.69,103.47 L671.40,102.79 L672.40,103.32 L673.35,103.24 L674.27,103.35 L675.15,103.48 L676.00,103.86 L676.82,103.86 L677.61,103.69 L678.39,103.55 L679.14,103.69 L679.88,103.47 L680.60,103.86 L681.52,103.89 L682.33,103.36 L683.08,102.81 L683.80,102.63 L684.53,102.53 L685.32,102.47 L686.19,102.39 L687.20,101.78 L687.92,102.09 L688.74,101.81 L689.63,101.52 L690.57,101.37 L691.54,101.40 L692.52,101.52 L693.50,101.16 L694.44,101.36 L695.34,101.07 L696.16,100.79 L696.89,101.03 L697.51,101.14 L698.00,100.47" stroke="#4fe3e6" stroke-width="3.00" fill="none" stroke-linejoin="round" stroke-linecap="round" clip-path="url(#clipc)"/>
<path d="M508.50,91.49 L508.99,91.59 L509.65,91.67 L510.44,91.82 L511.32,91.74 L512.25,91.92 L513.20,91.34 L514.14,91.69 L515.03,92.04 L515.83,91.83 L516.50,91.98 L517.58,91.36 L518.47,91.54 L519.21,91.22 L519.87,91.10 L520.50,90.55 L520.87,89.63 L521.21,89.09 L521.51,88.36 L521.79,87.97 L522.06,87.00 L522.31,85.73 L522.55,85.40 L522.80,84.25 L523.18,83.59 L523.52,82.29 L523.84,81.35 L524.16,81.25 L524.50,80.30 L525.40,80.09 L526.30,81.14 L526.84,81.74 L527.38,82.17 L528.00,82.92 L528.45,82.30 L528.94,81.78 L529.46,80.67 L529.99,80.36 L530.50,79.43 L531.00,78.92 L531.51,78.13 L532.01,76.98 L532.51,76.33 L533.00,75.57 L533.55,75.04 L534.06,74.67 L534.62,74.36 L535.30,73.57 L535.60,72.58 L535.93,72.36 L536.28,71.33 L536.65,70.45 L537.03,69.90 L537.42,68.74 L537.80,67.71 L538.18,66.94 L538.54,66.28 L538.88,65.10 L539.20,65.13 L539.82,63.47 L540.37,63.30 L540.88,62.85 L541.39,61.78 L541.90,61.70 L542.40,60.56 L542.88,59.72 L543.36,58.36 L543.89,57.61 L544.50,57.28 L545.21,57.89 L546.00,57.81 L546.84,58.83 L547.68,59.52 L548.50,59.81 L549.31,59.28 L550.12,58.93 L550.93,58.61 L551.70,58.46 L552.40,57.93 L553.18,58.72 L553.87,59.38 L554.51,60.21 L555.10,60.48 L555.54,61.78 L555.94,61.89 L556.31,62.83 L556.66,63.89 L557.00,65.09 L557.20,65.40 L557.39,66.61 L557.57,67.20 L557.74,67.93 L557.90,68.83 L558.07,69.60 L558.23,70.36 L558.40,71.15 L558.66,72.74 L558.89,74.21 L559.13,74.73 L559.40,75.43 L559.70,76.34 L559.95,75.76 L560.22,75.06 L560.51,74.10 L560.81,73.37 L561.12,72.53 L561.41,71.37 L561.70,70.65 L562.16,69.44 L562.61,69.23 L563.07,68.04 L563.60,68.10 L564.20,68.64 L564.86,68.89 L565.56,70.03 L566.30,70.41 L566.91,69.81 L567.55,69.18 L568.21,67.83 L568.89,67.26 L569.60,66.55 L570.47,66.84 L571.35,66.52 L572.33,66.88 L573.50,67.65 L574.18,67.79 L574.92,68.16 L575.70,68.13 L576.52,68.52 L577.38,69.08 L578.24,69.32 L579.12,69.62 L580.00,70.13 L580.71,70.32 L581.44,70.87 L582.18,71.71 L582.93,72.11 L583.69,72.31 L584.45,72.66 L585.22,72.98 L585.98,73.22 L586.75,73.76 L587.50,74.50 L588.24,74.92 L588.96,74.90 L589.67,75.52 L590.38,75.83 L591.10,76.08 L591.83,76.37 L592.57,76.75 L593.35,76.80 L594.15,77.38 L595.00,77.45 L595.68,77.88 L596.39,78.38 L597.12,78.63 L597.87,78.67 L598.63,79.44 L599.41,79.55 L600.19,79.83 L600.98,79.77 L601.78,80.47 L602.57,80.60 L603.35,81.24 L604.13,81.43 L604.90,82.02 L605.66,82.25 L606.42,82.72 L607.18,82.77 L607.95,83.36 L608.71,83.80 L609.47,84.25 L610.23,84.29 L610.99,85.01 L611.75,85.40 L612.52,85.63 L613.28,86.18 L614.04,86.50 L614.80,86.51 L615.56,86.82 L616.32,86.85 L617.09,87.59 L617.85,87.92 L618.61,87.86 L619.37,88.25 L620.14,88.51 L620.90,88.76 L621.66,88.60 L622.42,89.26 L623.18,89.36 L623.94,89.67 L624.70,89.74 L625.52,90.16 L626.34,90.52 L627.15,90.68 L627.97,91.00 L628.79,90.76 L629.60,91.11 L630.41,91.57 L631.23,91.99 L632.05,91.97 L632.86,92.59 L633.68,92.86 L634.50,92.78 L635.25,93.41 L635.98,93.58 L636.70,93.82 L637.41,94.26 L638.12,94.77 L638.84,95.07 L639.56,95.48 L640.30,95.77 L641.06,96.47 L641.85,96.80 L642.66,97.35 L643.51,97.70 L644.40,97.82 L645.07,98.54 L645.77,98.16 L646.48,98.70 L647.22,98.87 L647.97,99.22 L648.73,99.26 L649.51,100.02 L650.30,99.95 L651.09,99.96 L651.89,100.60 L652.70,100.48 L653.50,101.02 L654.30,101.10 L655.10,101.48 L655.89,101.96 L656.67,102.06 L657.44,101.97 L658.20,102.42 L659.05,102.49 L659.91,102.47 L660.77,102.48 L661.64,102.95 L662.50,103.08 L663.37,103.49 L664.23,103.63 L665.09,103.50 L665.93,103.44 L666.77,103.92 L667.59,103.40 L668.40,103.58 L669.18,103.99 L669.95,104.11 L670.69,103.87 L671.40,104.29 L672.40,104.59 L673.35,104.34 L674.27,104.48 L675.15,104.43 L676.00,104.56 L676.82,105.11 L677.61,104.74 L678.39,105.18 L679.14,105.15 L679.88,104.91 L680.60,104.63 L681.52,105.01 L682.33,104.48 L683.08,104.17 L683.80,103.82 L684.53,104.00 L685.32,103.36 L686.19,102.96 L687.20,102.88 L687.92,102.53 L688.74,102.77 L689.63,102.55 L690.57,102.35 L691.54,102.60 L692.52,102.55 L693.50,101.90 L694.44,102.19 L695.34,101.95 L696.16,102.35 L696.89,102.19 L697.51,101.76 L698.00,101.74" stroke="#105e9e" stroke-width="2.00" fill="none" stroke-linejoin="round" stroke-linecap="round" clip-path="url(#clipc)"/>
<path d="M508.50,90.68 L509.00,90.61 L509.68,91.04 L510.48,90.73 L511.37,91.15 L512.31,91.12 L513.27,90.97 L514.20,91.31 L515.03,91.00 L515.91,91.32 L516.84,91.12 L517.77,91.16 L518.69,91.37 L519.59,91.55 L520.43,90.86 L521.20,90.61 L521.82,90.49 L522.39,90.23 L522.93,89.41 L523.43,88.65 L523.91,88.37 L524.39,87.00 L524.85,86.81 L525.32,85.64 L525.80,84.75 L526.19,84.06 L526.56,83.48 L526.91,83.08 L527.26,81.85 L527.60,81.32 L527.95,80.56 L528.31,79.56 L528.69,78.90 L529.10,77.80 L529.53,77.07 L530.00,76.49 L530.51,76.20 L531.05,75.43 L531.63,74.80 L532.22,74.46 L532.84,73.85 L533.46,73.24 L534.10,73.08 L534.74,72.50 L535.37,71.65 L535.99,71.33 L536.60,70.72 L537.15,70.40 L537.70,69.72 L538.25,68.81 L538.80,68.68 L539.35,67.46 L539.90,67.04 L540.45,66.66 L541.00,65.61 L541.55,65.24 L542.10,64.32 L542.65,64.18 L543.20,63.69 L543.81,62.95 L544.44,62.56 L545.07,61.57 L545.71,61.25 L546.35,60.61 L546.98,60.03 L547.60,59.40 L548.19,59.15 L548.76,58.72 L549.30,57.92 L549.80,57.61 L550.61,56.46 L551.32,56.27 L551.96,55.66 L552.54,55.40 L553.12,54.83 L553.70,54.05 L554.58,53.56 L555.42,53.29 L556.23,52.56 L557.00,52.87 L557.72,52.97 L558.39,53.49 L559.05,54.25 L559.70,55.79 L560.03,56.00 L560.35,56.88 L560.68,57.86 L561.00,59.13 L561.32,59.51 L561.65,60.66 L561.97,61.55 L562.30,62.47 L562.80,63.31 L563.28,64.07 L563.78,64.26 L564.34,64.87 L565.00,65.30 L565.65,66.01 L566.37,66.32 L567.14,65.97 L567.94,66.18 L568.77,66.41 L569.60,66.61 L570.45,67.00 L571.32,67.28 L572.22,67.25 L573.12,67.27 L574.02,67.79 L574.90,68.01 L575.73,68.41 L576.53,68.94 L577.31,69.03 L578.13,69.23 L579.01,69.69 L580.00,70.22 L580.65,70.15 L581.35,71.16 L582.07,71.54 L582.83,72.11 L583.60,72.56 L584.38,72.80 L585.17,73.31 L585.96,73.58 L586.74,74.40 L587.50,74.39 L588.32,74.77 L589.12,75.18 L589.91,75.42 L590.70,75.80 L591.50,75.84 L592.32,76.06 L593.17,76.44 L594.06,76.73 L595.00,77.30 L595.68,77.37 L596.39,78.29 L597.12,78.45 L597.87,78.49 L598.63,78.94 L599.41,79.39 L600.19,79.80 L600.98,80.03 L601.78,80.94 L602.57,81.45 L603.35,81.48 L604.13,81.90 L604.90,82.01 L605.66,82.42 L606.42,82.99 L607.18,83.35 L607.95,84.16 L608.71,84.12 L609.47,84.44 L610.23,85.51 L610.99,85.63 L611.75,85.77 L612.52,86.44 L613.28,86.46 L614.04,87.17 L614.80,87.83 L615.56,88.08 L616.32,88.27 L617.09,88.27 L617.85,88.63 L618.61,88.76 L619.37,89.45 L620.14,89.54 L620.90,89.96 L621.66,89.90 L622.42,90.07 L623.18,90.72 L623.94,91.09 L624.70,91.25 L625.52,91.48 L626.34,91.73 L627.15,91.90 L627.97,91.77 L628.79,92.19 L629.60,92.30 L630.41,92.30 L631.23,92.53 L632.05,92.96 L632.86,93.22 L633.68,93.81 L634.50,94.32 L635.25,94.29 L635.98,94.99 L636.70,95.40 L637.42,95.77 L638.13,95.76 L638.85,96.08 L639.58,96.51 L640.32,96.91 L641.08,97.34 L641.86,98.04 L642.67,98.64 L643.52,98.98 L644.40,99.09 L645.10,99.47 L645.83,99.84 L646.58,99.61 L647.35,100.27 L648.13,100.70 L648.93,100.87 L649.75,101.10 L650.57,101.16 L651.40,101.19 L652.23,101.85 L653.07,101.76 L653.90,102.31 L654.74,102.65 L655.56,102.45 L656.39,102.66 L657.20,103.23 L658.00,103.26 L658.85,103.05 L659.71,103.19 L660.58,103.37 L661.46,104.05 L662.34,104.13 L663.22,103.81 L664.10,104.41 L664.98,104.64 L665.84,104.53 L666.69,104.43 L667.53,104.67 L668.35,104.48 L669.15,104.49 L669.93,105.26 L670.68,105.12 L671.40,105.12 L672.36,105.52 L673.22,105.29 L673.99,105.70 L674.71,105.77 L675.40,105.42 L676.10,105.52 L676.83,105.61 L677.61,105.61 L678.49,105.88 L679.47,105.65 L680.60,105.74 L681.27,105.52 L682.01,106.03 L682.81,105.60 L683.66,105.61 L684.55,105.64 L685.48,105.80 L686.44,105.38 L687.41,105.65 L688.40,105.27 L689.38,105.21 L690.36,105.12 L691.33,104.68 L692.27,104.88 L693.19,104.62 L694.06,104.41 L694.88,104.89 L695.65,104.38 L696.36,104.53 L696.99,104.65 L697.54,104.48 L698.00,104.28" stroke="#cf5a2a" stroke-width="1.70" fill="none" stroke-linejoin="round" stroke-linecap="round" clip-path="url(#clipc)"/>
<path d="M81.90,73.20 L82.12,73.44 L82.40,73.78 L82.78,74.17 L83.30,74.53 L84.00,74.80 L84.36,74.88 L84.77,74.94 L85.21,74.99 L85.69,75.04 L86.20,75.07 L86.72,75.10 L87.27,75.12 L87.82,75.14 L88.37,75.16 L88.93,75.17 L89.47,75.18 L90.00,75.20 L90.50,75.22 L91.01,75.24 L91.55,75.27 L92.10,75.29 L92.65,75.32 L93.21,75.34 L93.75,75.35 L94.28,75.36 L94.79,75.35 L95.28,75.34 L95.73,75.31 L96.14,75.26 L96.50,75.20 L97.27,74.91 L97.83,74.49 L98.25,74.01 L98.55,73.59 L98.80,73.30 L98.80,73.30 L98.71,73.57 L98.60,73.89 L98.48,74.25 L98.33,74.64 L98.18,75.08 L98.01,75.56 L97.84,76.07 L97.66,76.61 L97.48,77.19 L97.30,77.80 L97.13,78.44 L96.96,79.11 L96.80,79.80 L96.72,80.19 L96.64,80.59 L96.56,81.00 L96.48,81.43 L96.40,81.86 L96.32,82.30 L96.25,82.76 L96.17,83.22 L96.09,83.70 L96.02,84.18 L95.94,84.67 L95.86,85.17 L95.78,85.68 L95.70,86.19 L95.62,86.71 L95.54,87.24 L95.46,87.78 L95.37,88.32 L95.28,88.87 L95.19,89.43 L95.10,89.99 L95.00,90.55 L94.90,91.13 L94.80,91.70 L94.72,92.14 L94.64,92.60 L94.55,93.07 L94.47,93.56 L94.38,94.06 L94.29,94.57 L94.20,95.09 L94.10,95.62 L94.01,96.15 L93.91,96.70 L93.82,97.24 L93.72,97.79 L93.62,98.34 L93.52,98.90 L93.42,99.45 L93.32,100.00 L93.22,100.55 L93.12,101.09 L93.02,101.63 L92.92,102.16 L92.82,102.68 L92.72,103.19 L92.62,103.69 L92.52,104.18 L92.43,104.66 L92.33,105.12 L92.24,105.56 L92.15,105.99 L92.06,106.40 L91.97,106.79 L91.88,107.16 L91.80,107.50 L91.56,108.39 L91.33,109.15 L91.10,109.80 L90.88,110.34 L90.67,110.81 L90.46,111.22 L90.26,111.58 L90.06,111.92 L89.87,112.26 L89.68,112.61 L89.50,113.00 L89.24,113.77 L89.00,114.68 L88.79,115.61 L88.58,116.39 L88.37,116.90 L88.14,116.98 L87.90,116.50 L87.84,116.29 L87.78,116.03 L87.71,115.73 L87.65,115.40 L87.58,115.02 L87.51,114.62 L87.44,114.18 L87.37,113.72 L87.30,113.22 L87.23,112.71 L87.15,112.18 L87.08,111.62 L87.01,111.06 L86.94,110.48 L86.86,109.89 L86.79,109.29 L86.72,108.69 L86.65,108.08 L86.58,107.48 L86.51,106.88 L86.44,106.28 L86.37,105.69 L86.31,105.12 L86.24,104.55 L86.18,104.01 L86.12,103.48 L86.06,102.97 L86.01,102.49 L85.95,102.03 L85.90,101.60 L85.82,100.96 L85.75,100.33 L85.69,99.72 L85.63,99.13 L85.57,98.56 L85.51,97.99 L85.46,97.45 L85.41,96.91 L85.37,96.39 L85.32,95.88 L85.28,95.39 L85.23,94.90 L85.19,94.42 L85.14,93.95 L85.10,93.49 L85.05,93.03 L85.00,92.58 L84.95,92.14 L84.90,91.70 L84.82,91.09 L84.74,90.54 L84.67,90.03 L84.60,89.55 L84.52,89.09 L84.44,88.65 L84.37,88.20 L84.29,87.75 L84.20,87.28 L84.11,86.78 L84.01,86.24 L83.91,85.65 L83.80,85.00 L83.73,84.58 L83.65,84.11 L83.57,83.62 L83.48,83.10 L83.38,82.55 L83.29,81.99 L83.19,81.41 L83.09,80.82 L82.99,80.22 L82.88,79.63 L82.78,79.03 L82.68,78.44 L82.58,77.87 L82.48,77.30 L82.39,76.76 L82.30,76.25 L82.22,75.76 L82.14,75.30 L82.07,74.88 L82.00,74.51 L81.95,74.18 L81.90,73.90 Z" fill="#6f55e6" fill-opacity="0.38" stroke="none" clip-path="url(#clipa)"/>
<path d="M316.00,52.50 L316.11,52.15 L316.25,51.65 L316.42,51.07 L316.64,50.47 L316.89,49.92 L317.20,49.50 L317.57,49.20 L318.01,48.96 L318.49,48.78 L318.99,48.64 L319.50,48.52 L320.00,48.40 L320.47,48.30 L320.91,48.24 L321.36,48.21 L321.84,48.18 L322.38,48.15 L323.00,48.10 L323.43,48.07 L323.90,48.03 L324.42,48.00 L324.95,47.96 L325.50,47.93 L326.05,47.89 L326.58,47.85 L327.10,47.80 L327.57,47.75 L328.00,47.70 L328.64,47.60 L329.22,47.50 L329.75,47.39 L330.22,47.27 L330.64,47.14 L331.00,47.00 L331.69,46.46 L332.00,46.00 L332.00,46.00 L331.81,45.81 L331.40,45.00 L331.27,44.68 L331.13,44.31 L330.97,43.89 L330.80,43.44 L330.62,42.95 L330.43,42.42 L330.24,41.86 L330.06,41.27 L329.87,40.65 L329.70,40.00 L329.59,39.57 L329.49,39.12 L329.38,38.64 L329.27,38.14 L329.16,37.63 L329.05,37.10 L328.94,36.56 L328.83,36.01 L328.72,35.46 L328.62,34.91 L328.51,34.37 L328.40,33.83 L328.30,33.30 L328.20,32.78 L328.10,32.28 L328.00,31.80 L327.88,31.22 L327.76,30.65 L327.65,30.08 L327.53,29.51 L327.42,28.96 L327.31,28.41 L327.20,27.87 L327.10,27.35 L326.99,26.84 L326.89,26.35 L326.79,25.88 L326.69,25.43 L326.60,25.00 L326.46,24.36 L326.33,23.79 L326.21,23.27 L326.09,22.79 L325.98,22.33 L325.86,21.89 L325.74,21.45 L325.60,21.00 L325.43,20.46 L325.26,19.90 L325.07,19.35 L324.89,18.83 L324.69,18.35 L324.50,17.93 L324.30,17.60 L323.81,17.10 L323.31,16.90 L322.80,17.00 L322.50,17.17 L322.19,17.42 L321.89,17.79 L321.59,18.30 L321.30,19.00 L321.19,19.34 L321.07,19.71 L320.97,20.10 L320.86,20.52 L320.75,20.96 L320.65,21.44 L320.55,21.94 L320.44,22.48 L320.33,23.05 L320.23,23.66 L320.11,24.31 L320.00,25.00 L319.94,25.40 L319.87,25.81 L319.81,26.25 L319.74,26.70 L319.68,27.16 L319.61,27.64 L319.54,28.13 L319.48,28.63 L319.41,29.14 L319.34,29.66 L319.28,30.19 L319.21,30.72 L319.14,31.25 L319.07,31.79 L319.00,32.33 L318.93,32.86 L318.86,33.40 L318.79,33.93 L318.72,34.46 L318.64,34.98 L318.57,35.50 L318.50,36.00 L318.43,36.51 L318.35,37.02 L318.27,37.54 L318.19,38.07 L318.11,38.61 L318.03,39.15 L317.94,39.69 L317.86,40.23 L317.77,40.77 L317.69,41.31 L317.61,41.84 L317.52,42.37 L317.44,42.89 L317.36,43.40 L317.28,43.91 L317.20,44.40 L317.13,44.87 L317.06,45.33 L316.99,45.78 L316.92,46.21 L316.86,46.61 L316.80,47.00 L316.69,47.73 L316.59,48.41 L316.50,49.05 L316.41,49.64 L316.33,50.18 L316.26,50.68 L316.19,51.14 L316.14,51.55 L316.08,51.91 L316.04,52.23 L316.00,52.50 Z" fill="#6f55e6" fill-opacity="0.38" stroke="none" clip-path="url(#clipb)"/>
<path d="M32.70,224.30 L32.98,224.25 L33.30,224.18 L33.68,224.10 L34.09,224.02 L34.54,223.92 L35.03,223.82 L35.55,223.72 L36.09,223.61 L36.65,223.50 L37.22,223.39 L37.81,223.28 L38.41,223.18 L39.01,223.08 L39.61,222.98 L40.20,222.90 L40.65,222.84 L41.11,222.79 L41.58,222.73 L42.07,222.68 L42.56,222.63 L43.06,222.58 L43.57,222.53 L44.08,222.49 L44.60,222.44 L45.12,222.39 L45.65,222.35 L46.18,222.30 L46.72,222.26 L47.25,222.21 L47.78,222.16 L48.31,222.11 L48.84,222.06 L49.36,222.01 L49.88,221.96 L50.40,221.90 L50.92,221.84 L51.44,221.78 L51.98,221.72 L52.52,221.66 L53.07,221.60 L53.61,221.54 L54.16,221.47 L54.71,221.41 L55.26,221.34 L55.81,221.28 L56.35,221.21 L56.88,221.14 L57.40,221.07 L57.92,221.01 L58.42,220.94 L58.91,220.87 L59.38,220.80 L59.84,220.74 L60.28,220.67 L60.70,220.60 L61.36,220.49 L61.97,220.37 L62.54,220.25 L63.08,220.13 L63.59,220.00 L64.08,219.88 L64.54,219.76 L65.00,219.64 L65.44,219.52 L65.89,219.41 L66.34,219.30 L66.80,219.20 L67.35,219.07 L67.88,218.91 L68.40,218.74 L68.91,218.58 L69.41,218.42 L69.91,218.29 L70.40,218.19 L70.90,218.14 L71.39,218.14 L71.90,218.20 L72.36,218.31 L72.83,218.47 L73.29,218.67 L73.75,218.90 L74.22,219.17 L74.68,219.46 L75.15,219.78 L75.61,220.11 L76.07,220.47 L76.54,220.83 L77.00,221.20 L77.37,221.50 L77.74,221.83 L78.11,222.17 L78.49,222.53 L78.86,222.90 L79.24,223.28 L79.61,223.67 L79.98,224.06 L80.35,224.46 L80.72,224.86 L81.07,225.25 L81.42,225.64 L81.77,226.03 L82.10,226.40 L82.45,226.80 L82.79,227.22 L83.11,227.63 L83.44,228.06 L83.75,228.48 L84.06,228.90 L84.37,229.32 L84.67,229.73 L84.97,230.12 L85.27,230.50 L85.58,230.85 L85.89,231.19 L86.20,231.50 L86.65,231.93 L87.09,232.35 L87.53,232.74 L87.97,233.11 L88.41,233.44 L88.86,233.71 L89.32,233.92 L89.80,234.05 L90.30,234.10 L90.72,234.07 L91.15,233.98 L91.59,233.83 L92.03,233.64 L92.49,233.41 L92.95,233.14 L93.42,232.85 L93.90,232.53 L94.39,232.20 L94.89,231.85 L95.40,231.50 L95.76,231.25 L96.12,230.97 L96.48,230.67 L96.85,230.35 L97.23,230.02 L97.60,229.68 L97.99,229.33 L98.38,228.98 L98.77,228.63 L99.16,228.28 L99.56,227.93 L99.96,227.59 L100.37,227.27 L100.77,226.96 L101.19,226.67 L101.60,226.40 L102.05,226.13 L102.50,225.85 L102.96,225.58 L103.43,225.31 L103.90,225.05 L104.37,224.80 L104.85,224.56 L105.33,224.33 L105.81,224.12 L106.29,223.93 L106.78,223.75 L107.26,223.60 L107.74,223.47 L108.22,223.37 L108.70,223.30 L109.21,223.26 L109.71,223.26 L110.22,223.30 L110.72,223.36 L111.22,223.46 L111.73,223.57 L112.23,223.70 L112.74,223.84 L113.25,223.99 L113.77,224.15 L114.29,224.30 L114.82,224.44 L115.35,224.58 L115.90,224.70 L116.39,224.80 L116.89,224.91 L117.41,225.02 L117.93,225.14 L118.47,225.26 L119.00,225.38 L119.54,225.50 L120.08,225.62 L120.62,225.74 L121.15,225.86 L121.67,225.97 L122.19,226.07 L122.69,226.17 L123.18,226.26 L123.65,226.33 L124.10,226.40 L124.72,226.48 L125.29,226.55 L125.84,226.60 L126.36,226.64 L126.86,226.67 L127.35,226.69 L127.85,226.69 L128.35,226.69 L128.87,226.67 L129.42,226.64 L130.00,226.60 L130.47,226.55 L130.93,226.47 L131.38,226.38 L131.84,226.27 L132.30,226.14 L132.77,226.02 L133.25,225.89 L133.75,225.76 L134.27,225.65 L134.81,225.55 L135.38,225.47 L135.98,225.42 L136.62,225.39 L137.30,225.40 L137.72,225.42 L138.15,225.45 L138.60,225.50 L139.06,225.55 L139.54,225.61 L140.02,225.68 L140.52,225.75 L141.03,225.83 L141.55,225.92 L142.07,226.01 L142.60,226.11 L143.14,226.21 L143.68,226.31 L144.22,226.41 L144.77,226.52 L145.31,226.62 L145.86,226.73 L146.41,226.83 L146.95,226.93 L147.49,227.04 L148.03,227.13 L148.56,227.23 L149.08,227.32 L149.60,227.40 L150.10,227.48 L150.59,227.57 L151.05,227.65 L151.51,227.74 L151.95,227.83 L152.39,227.92 L152.82,228.02 L153.24,228.11 L153.67,228.20 L154.10,228.29 L154.54,228.38 L154.98,228.47 L155.44,228.56 L155.90,228.64 L156.39,228.72 L156.89,228.80 L157.41,228.88 L157.96,228.95 L158.53,229.02 L159.14,229.09 L159.77,229.15 L160.44,229.21 L161.15,229.26 L161.90,229.30 L162.28,229.32 L162.67,229.34 L163.07,229.36 L163.47,229.38 L163.89,229.39 L164.31,229.41 L164.73,229.43 L165.17,229.44 L165.61,229.46 L166.06,229.47 L166.51,229.48 L166.97,229.50 L167.44,229.51 L167.91,229.52 L168.39,229.53 L168.87,229.54 L169.36,229.55 L169.86,229.56 L170.36,229.57 L170.86,229.57 L171.37,229.58 L171.88,229.58 L172.39,229.59 L172.91,229.59 L173.44,229.60 L173.96,229.60 L174.49,229.60 L175.02,229.60 L175.56,229.60 L176.10,229.60 L176.64,229.59 L177.18,229.59 L177.72,229.59 L178.27,229.58 L178.81,229.58 L179.36,229.57 L179.91,229.56 L180.46,229.55 L181.01,229.55 L181.56,229.53 L182.11,229.52 L182.66,229.51 L183.21,229.50 L183.76,229.48 L184.31,229.47 L184.86,229.45 L185.41,229.44 L185.96,229.42 L186.50,229.40 L186.97,229.38 L187.45,229.36 L187.94,229.34 L188.43,229.32 L188.93,229.30 L189.44,229.27 L189.96,229.24 L190.48,229.22 L191.00,229.19 L191.53,229.16 L192.06,229.12 L192.60,229.09 L193.15,229.06 L193.69,229.02 L194.24,228.99 L194.79,228.95 L195.35,228.91 L195.90,228.88 L196.46,228.84 L197.02,228.80 L197.58,228.76 L198.14,228.72 L198.70,228.68 L199.26,228.63 L199.82,228.59 L200.38,228.55 L200.94,228.51 L201.50,228.47 L202.05,228.42 L202.60,228.38 L203.15,228.34 L203.70,228.29 L204.24,228.25 L204.78,228.21 L205.31,228.17 L205.84,228.12 L206.36,228.08 L206.88,228.04 L207.39,228.00 L207.90,227.96 L208.40,227.92 L208.89,227.88 L209.38,227.84 L209.86,227.80 L210.33,227.77 L210.79,227.73 L211.24,227.69 L211.68,227.66 L212.12,227.63 L212.54,227.59 L212.95,227.56 L213.36,227.53 L213.75,227.50 L214.13,227.47 L214.50,227.45 L214.86,227.42 L215.20,227.40 L216.18,227.33 L217.08,227.27 L217.91,227.22 L218.67,227.17 L219.38,227.13 L220.03,227.09 L220.62,227.05 L221.16,227.02 L221.66,226.99 L222.12,226.96 L222.54,226.94 L222.92,226.92 L223.27,226.90 L223.60,226.88 L223.91,226.86 L224.20,226.85 L224.48,226.83 L224.74,226.82 L225.00,226.80 L225.00,231.50 L224.74,231.52 L224.48,231.53 L224.20,231.55 L223.91,231.56 L223.60,231.58 L223.27,231.59 L222.92,231.61 L222.54,231.63 L222.12,231.66 L221.66,231.68 L221.16,231.71 L220.62,231.74 L220.03,231.78 L219.38,231.82 L218.67,231.86 L217.91,231.91 L217.08,231.97 L216.18,232.03 L215.20,232.10 L214.86,232.12 L214.50,232.15 L214.13,232.18 L213.75,232.21 L213.36,232.24 L212.95,232.27 L212.54,232.30 L212.12,232.34 L211.68,232.38 L211.24,232.41 L210.79,232.45 L210.33,232.49 L209.86,232.53 L209.38,232.57 L208.89,232.61 L208.40,232.66 L207.90,232.70 L207.39,232.74 L206.88,232.79 L206.36,232.83 L205.84,232.88 L205.31,232.92 L204.78,232.97 L204.24,233.02 L203.70,233.06 L203.15,233.11 L202.60,233.16 L202.05,233.20 L201.50,233.25 L200.94,233.29 L200.38,233.34 L199.82,233.38 L199.26,233.43 L198.70,233.47 L198.14,233.52 L197.58,233.56 L197.02,233.60 L196.46,233.64 L195.90,233.69 L195.35,233.73 L194.79,233.76 L194.24,233.80 L193.69,233.84 L193.15,233.87 L192.60,233.91 L192.06,233.94 L191.53,233.97 L191.00,234.00 L190.48,234.03 L189.96,234.06 L189.44,234.09 L188.93,234.11 L188.43,234.13 L187.94,234.15 L187.45,234.17 L186.97,234.19 L186.50,234.20 L185.96,234.21 L185.41,234.23 L184.86,234.24 L184.31,234.25 L183.76,234.25 L183.21,234.26 L182.66,234.26 L182.11,234.27 L181.56,234.27 L181.01,234.27 L180.46,234.27 L179.91,234.26 L179.36,234.26 L178.81,234.25 L178.27,234.24 L177.72,234.24 L177.18,234.23 L176.64,234.22 L176.10,234.20 L175.56,234.19 L175.02,234.18 L174.49,234.16 L173.96,234.15 L173.44,234.13 L172.91,234.12 L172.39,234.10 L171.88,234.08 L171.37,234.06 L170.86,234.04 L170.36,234.02 L169.86,234.00 L169.36,233.98 L168.87,233.96 L168.39,233.94 L167.91,233.92 L167.44,233.89 L166.97,233.87 L166.51,233.85 L166.06,233.83 L165.61,233.80 L165.17,233.78 L164.73,233.76 L164.31,233.73 L163.89,233.71 L163.47,233.69 L163.07,233.67 L162.67,233.64 L162.28,233.62 L161.90,233.60 L161.15,233.55 L160.44,233.50 L159.77,233.45 L159.14,233.40 L158.53,233.34 L157.96,233.28 L157.41,233.21 L156.89,233.15 L156.39,233.08 L155.90,233.01 L155.44,232.94 L154.98,232.88 L154.54,232.81 L154.10,232.74 L153.67,232.67 L153.24,232.60 L152.82,232.53 L152.39,232.46 L151.95,232.40 L151.51,232.33 L151.05,232.27 L150.59,232.21 L150.10,232.15 L149.60,232.10 L149.08,232.05 L148.56,231.99 L148.03,231.92 L147.49,231.86 L146.95,231.79 L146.41,231.72 L145.86,231.65 L145.31,231.57 L144.77,231.50 L144.22,231.44 L143.68,231.37 L143.14,231.31 L142.60,231.25 L142.07,231.19 L141.55,231.15 L141.03,231.10 L140.52,231.07 L140.02,231.04 L139.54,231.03 L139.06,231.02 L138.60,231.02 L138.15,231.03 L137.72,231.06 L137.30,231.10 L136.67,231.19 L136.10,231.33 L135.56,231.49 L135.07,231.69 L134.60,231.90 L134.15,232.14 L133.72,232.39 L133.30,232.65 L132.87,232.91 L132.45,233.17 L132.01,233.43 L131.55,233.68 L131.07,233.91 L130.55,234.12 L130.00,234.30 L129.56,234.42 L129.10,234.54 L128.63,234.65 L128.14,234.76 L127.65,234.85 L127.14,234.95 L126.63,235.04 L126.11,235.13 L125.58,235.22 L125.06,235.30 L124.53,235.38 L124.00,235.47 L123.47,235.55 L122.95,235.63 L122.44,235.72 L121.93,235.81 L121.43,235.90 L120.94,236.00 L120.46,236.10 L120.00,236.20 L119.47,236.32 L118.94,236.44 L118.42,236.54 L117.90,236.65 L117.39,236.75 L116.89,236.86 L116.39,236.96 L115.90,237.07 L115.41,237.19 L114.94,237.32 L114.47,237.45 L114.00,237.60 L113.55,237.76 L113.10,237.94 L112.66,238.14 L112.22,238.36 L111.80,238.60 L111.38,238.86 L110.98,239.14 L110.59,239.43 L110.20,239.73 L109.82,240.05 L109.45,240.39 L109.09,240.73 L108.73,241.09 L108.38,241.46 L108.04,241.84 L107.69,242.24 L107.36,242.64 L107.02,243.05 L106.69,243.48 L106.36,243.91 L106.03,244.35 L105.70,244.80 L105.44,245.18 L105.18,245.57 L104.92,245.98 L104.67,246.41 L104.42,246.85 L104.17,247.30 L103.93,247.76 L103.69,248.23 L103.45,248.70 L103.21,249.17 L102.98,249.64 L102.74,250.12 L102.51,250.59 L102.27,251.05 L102.04,251.51 L101.80,251.96 L101.56,252.40 L101.33,252.82 L101.09,253.23 L100.84,253.63 L100.60,254.00 L100.28,254.47 L99.95,254.94 L99.63,255.39 L99.30,255.84 L98.98,256.27 L98.65,256.69 L98.33,257.10 L98.00,257.50 L97.67,257.88 L97.35,258.25 L97.02,258.60 L96.70,258.94 L96.37,259.25 L96.05,259.55 L95.72,259.84 L95.40,260.10 L94.89,260.49 L94.37,260.84 L93.86,261.16 L93.35,261.44 L92.84,261.67 L92.34,261.86 L91.83,262.00 L91.32,262.09 L90.81,262.12 L90.30,262.10 L89.84,262.03 L89.37,261.90 L88.91,261.73 L88.45,261.51 L87.98,261.25 L87.52,260.96 L87.05,260.64 L86.59,260.28 L86.13,259.91 L85.66,259.51 L85.20,259.10 L84.88,258.80 L84.56,258.49 L84.23,258.16 L83.90,257.82 L83.57,257.46 L83.24,257.09 L82.91,256.71 L82.59,256.32 L82.26,255.92 L81.94,255.50 L81.62,255.09 L81.30,254.66 L80.99,254.23 L80.69,253.79 L80.39,253.35 L80.10,252.90 L79.85,252.50 L79.60,252.10 L79.36,251.70 L79.12,251.29 L78.89,250.88 L78.66,250.46 L78.43,250.04 L78.21,249.61 L77.99,249.17 L77.77,248.72 L77.55,248.27 L77.33,247.81 L77.11,247.33 L76.89,246.85 L76.67,246.36 L76.45,245.85 L76.23,245.33 L76.00,244.80 L75.83,244.39 L75.66,243.96 L75.49,243.51 L75.32,243.05 L75.15,242.58 L74.98,242.10 L74.80,241.61 L74.63,241.11 L74.46,240.61 L74.29,240.11 L74.12,239.60 L73.95,239.09 L73.78,238.58 L73.61,238.07 L73.44,237.57 L73.27,237.07 L73.10,236.58 L72.93,236.10 L72.75,235.63 L72.58,235.18 L72.41,234.73 L72.24,234.30 L72.07,233.89 L71.90,233.50 L71.65,232.93 L71.39,232.38 L71.15,231.84 L70.90,231.32 L70.65,230.82 L70.41,230.33 L70.16,229.86 L69.91,229.40 L69.66,228.96 L69.41,228.54 L69.16,228.14 L68.90,227.75 L68.63,227.39 L68.36,227.04 L68.08,226.71 L67.80,226.40 L67.40,225.99 L67.03,225.63 L66.68,225.32 L66.32,225.05 L65.96,224.81 L65.56,224.61 L65.13,224.43 L64.64,224.28 L64.08,224.14 L63.44,224.02 L62.70,223.90 L62.32,223.85 L61.92,223.81 L61.49,223.77 L61.04,223.74 L60.57,223.72 L60.08,223.70 L59.58,223.68 L59.06,223.67 L58.52,223.67 L57.98,223.67 L57.43,223.67 L56.87,223.68 L56.31,223.68 L55.74,223.70 L55.18,223.71 L54.61,223.73 L54.05,223.74 L53.50,223.76 L52.95,223.79 L52.41,223.81 L51.89,223.83 L51.37,223.85 L50.88,223.88 L50.40,223.90 L49.84,223.93 L49.28,223.96 L48.73,224.00 L48.18,224.04 L47.64,224.09 L47.10,224.14 L46.57,224.19 L46.04,224.25 L45.52,224.30 L45.00,224.36 L44.49,224.42 L43.98,224.49 L43.49,224.55 L43.00,224.61 L42.51,224.68 L42.03,224.74 L41.56,224.81 L41.10,224.87 L40.65,224.94 L40.20,225.00 L39.61,225.09 L39.01,225.18 L38.41,225.28 L37.81,225.39 L37.22,225.50 L36.65,225.61 L36.09,225.71 L35.55,225.82 L35.03,225.93 L34.54,226.03 L34.09,226.12 L33.68,226.20 L33.30,226.28 L32.98,226.35 L32.70,226.40 Z" fill="#c0f7c0" fill-opacity="1.00" stroke="none" clip-path="url(#clipd)"/>
<path d="M32.70,224.30 C33.95,224.07 37.25,223.30 40.20,222.90 C43.15,222.50 46.98,222.28 50.40,221.90 C53.82,221.52 57.97,221.05 60.70,220.60 C63.43,220.15 64.93,219.60 66.80,219.20 C68.67,218.80 70.20,217.87 71.90,218.20 C73.60,218.53 75.30,219.83 77.00,221.20 C78.70,222.57 80.57,224.68 82.10,226.40 C83.63,228.12 84.83,230.22 86.20,231.50 C87.57,232.78 88.77,234.10 90.30,234.10 C91.83,234.10 93.52,232.78 95.40,231.50 C97.28,230.22 99.38,227.77 101.60,226.40 C103.82,225.03 106.32,223.58 108.70,223.30 C111.08,223.02 113.33,224.18 115.90,224.70 C118.47,225.22 121.75,226.08 124.10,226.40 C126.45,226.72 127.80,226.77 130.00,226.60 C132.20,226.43 134.03,225.27 137.30,225.40 C140.57,225.53 145.50,226.75 149.60,227.40 C153.70,228.05 155.75,228.97 161.90,229.30 C168.05,229.63 177.62,229.72 186.50,229.40 C195.38,229.08 208.78,227.83 215.20,227.40 C221.62,226.97 223.37,226.90 225.00,226.80" stroke="#5f915f" stroke-width="0.75" fill="none" stroke-linejoin="round" stroke-linecap="round" clip-path="url(#clipd)"/>
<path d="M32.70,226.40 C33.95,226.17 37.25,225.42 40.20,225.00 C43.15,224.58 46.65,224.08 50.40,223.90 C54.15,223.72 59.80,223.48 62.70,223.90 C65.60,224.32 66.27,224.80 67.80,226.40 C69.33,228.00 70.53,230.43 71.90,233.50 C73.27,236.57 74.63,241.57 76.00,244.80 C77.37,248.03 78.57,250.52 80.10,252.90 C81.63,255.28 83.50,257.57 85.20,259.10 C86.90,260.63 88.60,261.93 90.30,262.10 C92.00,262.27 93.68,261.45 95.40,260.10 C97.12,258.75 98.88,256.55 100.60,254.00 C102.32,251.45 103.83,247.37 105.70,244.80 C107.57,242.23 109.42,240.03 111.80,238.60 C114.18,237.17 116.97,236.92 120.00,236.20 C123.03,235.48 127.12,235.15 130.00,234.30 C132.88,233.45 134.03,231.47 137.30,231.10 C140.57,230.73 145.50,231.68 149.60,232.10 C153.70,232.52 155.75,233.25 161.90,233.60 C168.05,233.95 177.62,234.45 186.50,234.20 C195.38,233.95 208.78,232.55 215.20,232.10 C221.62,231.65 223.37,231.60 225.00,231.50" stroke="#5f915f" stroke-width="0.75" fill="none" stroke-linejoin="round" stroke-linecap="round" clip-path="url(#clipd)"/>
<path d="M32.70,225.30 C33.95,225.07 37.25,224.30 40.20,223.90 C43.15,223.50 46.98,223.17 50.40,222.90 C53.82,222.63 57.97,222.30 60.70,222.30 C63.43,222.30 65.10,222.22 66.80,222.90 C68.50,223.58 69.53,224.80 70.90,226.40 C72.27,228.00 73.47,230.28 75.00,232.50 C76.53,234.72 78.40,237.65 80.10,239.70 C81.80,241.75 83.50,243.52 85.20,244.80 C86.90,246.08 88.60,247.23 90.30,247.40 C92.00,247.57 93.52,247.08 95.40,245.80 C97.28,244.52 99.55,241.40 101.60,239.70 C103.65,238.00 105.32,236.87 107.70,235.60 C110.08,234.33 113.17,233.03 115.90,232.10 C118.63,231.17 121.75,230.48 124.10,230.00 C126.45,229.52 127.80,229.47 130.00,229.20 C132.20,228.93 134.03,228.28 137.30,228.40 C140.57,228.52 145.50,229.45 149.60,229.90 C153.70,230.35 157.83,230.83 161.90,231.10 C165.97,231.37 169.90,231.43 174.00,231.50 C178.10,231.57 181.68,231.67 186.50,231.50 C191.32,231.33 198.12,230.83 202.90,230.50 C207.68,230.17 211.52,229.85 215.20,229.50 C218.88,229.15 223.37,228.58 225.00,228.40" stroke="#22cc22" stroke-width="1.90" fill="none" stroke-linejoin="round" stroke-linecap="round" clip-path="url(#clipd)"/>
<path d="M269.80,241.70 L270.08,241.66 L270.40,241.62 L270.77,241.57 L271.18,241.53 L271.63,241.48 L272.12,241.43 L272.63,241.38 L273.17,241.32 L273.73,241.26 L274.30,241.20 L274.89,241.13 L275.49,241.06 L276.10,240.99 L276.70,240.91 L277.30,240.83 L277.90,240.74 L278.49,240.65 L279.06,240.55 L279.61,240.45 L280.14,240.34 L280.64,240.22 L281.11,240.10 L281.55,239.97 L281.95,239.84 L282.30,239.70 L282.90,239.40 L283.41,239.04 L283.86,238.65 L284.25,238.23 L284.58,237.79 L284.87,237.33 L285.13,236.87 L285.36,236.41 L285.57,235.97 L285.77,235.55 L285.97,235.16 L286.18,234.80 L286.40,234.50 L286.92,233.81 L287.30,233.22 L287.62,232.78 L287.96,232.52 L288.40,232.50 L288.72,232.62 L289.05,232.82 L289.39,233.11 L289.76,233.48 L290.14,233.92 L290.56,234.42 L291.01,234.99 L291.50,235.60 L291.75,235.92 L292.01,236.29 L292.29,236.68 L292.58,237.11 L292.88,237.56 L293.19,238.03 L293.51,238.51 L293.83,238.99 L294.15,239.48 L294.47,239.96 L294.79,240.43 L295.11,240.89 L295.43,241.32 L295.73,241.72 L296.03,242.09 L296.32,242.42 L296.60,242.70 L297.15,243.21 L297.65,243.63 L298.12,243.97 L298.58,244.22 L299.05,244.40 L299.55,244.48 L300.09,244.48 L300.70,244.40 L301.08,244.31 L301.48,244.19 L301.89,244.03 L302.32,243.84 L302.76,243.62 L303.22,243.38 L303.68,243.11 L304.14,242.81 L304.61,242.50 L305.07,242.17 L305.54,241.82 L306.00,241.46 L306.46,241.08 L306.90,240.70 L307.24,240.39 L307.58,240.06 L307.92,239.73 L308.26,239.37 L308.60,239.01 L308.94,238.63 L309.28,238.25 L309.62,237.85 L309.96,237.44 L310.29,237.03 L310.63,236.61 L310.97,236.18 L311.31,235.74 L311.65,235.30 L311.98,234.86 L312.32,234.41 L312.66,233.95 L313.00,233.50 L313.28,233.12 L313.57,232.71 L313.86,232.29 L314.15,231.86 L314.45,231.41 L314.74,230.95 L315.04,230.49 L315.34,230.02 L315.64,229.54 L315.94,229.07 L316.24,228.60 L316.53,228.13 L316.82,227.68 L317.10,227.23 L317.38,226.79 L317.65,226.37 L317.92,225.97 L318.17,225.59 L318.42,225.22 L318.66,224.89 L318.88,224.58 L319.10,224.30 L319.68,223.57 L320.15,223.01 L320.53,222.60 L320.89,222.31 L321.26,222.11 L321.68,221.98 L322.20,221.90 L322.63,221.88 L323.11,221.93 L323.61,222.02 L324.14,222.16 L324.69,222.32 L325.24,222.51 L325.78,222.72 L326.31,222.92 L326.82,223.12 L327.30,223.30 L327.79,223.51 L328.24,223.76 L328.67,224.03 L329.08,224.31 L329.50,224.58 L329.92,224.83 L330.37,225.05 L330.86,225.21 L331.40,225.30 L331.83,225.33 L332.29,225.34 L332.76,225.33 L333.24,225.30 L333.74,225.25 L334.26,225.18 L334.78,225.09 L335.31,224.97 L335.85,224.84 L336.40,224.68 L336.95,224.50 L337.50,224.30 L337.92,224.12 L338.33,223.90 L338.75,223.65 L339.18,223.37 L339.60,223.08 L340.03,222.77 L340.47,222.45 L340.91,222.13 L341.35,221.81 L341.81,221.50 L342.27,221.21 L342.73,220.94 L343.21,220.70 L343.70,220.49 L344.19,220.32 L344.70,220.20 L345.16,220.13 L345.63,220.08 L346.11,220.05 L346.59,220.04 L347.08,220.05 L347.58,220.08 L348.09,220.12 L348.60,220.18 L349.11,220.25 L349.63,220.33 L350.16,220.42 L350.69,220.52 L351.22,220.63 L351.75,220.74 L352.29,220.85 L352.82,220.97 L353.36,221.08 L353.90,221.20 L354.36,221.30 L354.83,221.42 L355.30,221.54 L355.78,221.67 L356.26,221.81 L356.74,221.96 L357.23,222.11 L357.71,222.27 L358.20,222.43 L358.69,222.60 L359.18,222.76 L359.68,222.93 L360.17,223.10 L360.66,223.26 L361.16,223.43 L361.65,223.59 L362.14,223.74 L362.63,223.89 L363.12,224.04 L363.61,224.17 L364.10,224.30 L364.61,224.42 L365.11,224.53 L365.61,224.62 L366.11,224.70 L366.60,224.78 L367.09,224.84 L367.59,224.91 L368.08,224.97 L368.57,225.03 L369.07,225.09 L369.57,225.16 L370.07,225.24 L370.57,225.33 L371.09,225.43 L371.60,225.54 L372.13,225.67 L372.66,225.82 L373.19,225.99 L373.74,226.18 L374.30,226.40 L374.70,226.58 L375.11,226.77 L375.53,226.98 L375.95,227.20 L376.37,227.43 L376.80,227.68 L377.23,227.94 L377.66,228.21 L378.10,228.48 L378.54,228.77 L378.98,229.06 L379.42,229.35 L379.87,229.65 L380.32,229.94 L380.77,230.24 L381.22,230.54 L381.67,230.84 L382.12,231.13 L382.57,231.42 L383.02,231.70 L383.48,231.98 L383.93,232.24 L384.38,232.50 L384.82,232.75 L385.27,232.98 L385.72,233.20 L386.16,233.41 L386.60,233.60 L387.09,233.80 L387.56,233.98 L388.02,234.14 L388.48,234.29 L388.93,234.43 L389.37,234.56 L389.81,234.68 L390.25,234.79 L390.69,234.90 L391.13,235.00 L391.57,235.09 L392.01,235.18 L392.46,235.27 L392.92,235.36 L393.39,235.44 L393.87,235.53 L394.36,235.62 L394.86,235.72 L395.38,235.82 L395.92,235.93 L396.47,236.04 L397.04,236.16 L397.64,236.30 L398.26,236.44 L398.90,236.60 L399.30,236.70 L399.71,236.81 L400.14,236.92 L400.58,237.04 L401.03,237.16 L401.49,237.29 L401.96,237.42 L402.44,237.56 L402.94,237.70 L403.44,237.84 L403.94,237.99 L404.46,238.14 L404.98,238.29 L405.51,238.44 L406.04,238.59 L406.57,238.75 L407.11,238.90 L407.65,239.06 L408.19,239.21 L408.74,239.37 L409.28,239.52 L409.82,239.67 L410.37,239.82 L410.90,239.97 L411.44,240.11 L411.97,240.25 L412.50,240.39 L413.03,240.53 L413.54,240.66 L414.05,240.78 L414.56,240.90 L415.05,241.02 L415.54,241.13 L416.02,241.23 L416.48,241.33 L416.94,241.42 L417.38,241.50 L417.82,241.58 L418.23,241.65 L418.64,241.71 L419.03,241.76 L419.40,241.80 L420.14,241.86 L420.82,241.87 L421.45,241.85 L422.03,241.79 L422.58,241.71 L423.08,241.60 L423.56,241.47 L424.02,241.32 L424.46,241.16 L424.88,240.99 L425.30,240.81 L425.71,240.64 L426.13,240.47 L426.56,240.30 L427.00,240.15 L427.46,240.01 L427.94,239.90 L428.46,239.80 L429.01,239.73 L429.60,239.70 L430.04,239.69 L430.49,239.69 L430.95,239.70 L431.41,239.71 L431.88,239.73 L432.36,239.76 L432.84,239.79 L433.33,239.82 L433.82,239.87 L434.32,239.91 L434.82,239.96 L435.33,240.02 L435.84,240.08 L436.36,240.14 L436.89,240.20 L437.41,240.27 L437.94,240.34 L438.48,240.40 L439.02,240.48 L439.56,240.55 L440.10,240.62 L440.65,240.69 L441.20,240.76 L441.76,240.83 L442.32,240.90 L442.88,240.97 L443.44,241.04 L444.00,241.10 L444.47,241.15 L444.97,241.21 L445.48,241.27 L446.00,241.33 L446.54,241.39 L447.09,241.46 L447.65,241.52 L448.22,241.59 L448.80,241.66 L449.38,241.73 L449.97,241.80 L450.56,241.87 L451.15,241.95 L451.74,242.02 L452.33,242.09 L452.92,242.17 L453.50,242.24 L454.08,242.31 L454.64,242.38 L455.20,242.45 L455.75,242.52 L456.29,242.59 L456.81,242.65 L457.32,242.71 L457.81,242.78 L458.28,242.84 L458.73,242.89 L459.16,242.95 L459.56,243.00 L459.95,243.04 L460.30,243.09 L460.63,243.13 L460.93,243.17 L461.20,243.20 L461.20,250.00 L460.94,250.05 L460.65,250.10 L460.34,250.16 L460.01,250.23 L459.66,250.30 L459.29,250.38 L458.90,250.47 L458.49,250.55 L458.07,250.65 L457.63,250.74 L457.17,250.84 L456.70,250.94 L456.21,251.05 L455.71,251.15 L455.20,251.26 L454.67,251.37 L454.14,251.47 L453.59,251.58 L453.03,251.69 L452.47,251.80 L451.89,251.91 L451.31,252.01 L450.72,252.12 L450.13,252.22 L449.53,252.31 L448.92,252.41 L448.31,252.50 L447.70,252.59 L447.08,252.67 L446.47,252.75 L445.85,252.82 L445.23,252.89 L444.62,252.95 L444.00,253.00 L443.57,253.03 L443.13,253.07 L442.69,253.10 L442.23,253.13 L441.78,253.16 L441.31,253.18 L440.84,253.21 L440.36,253.23 L439.88,253.26 L439.39,253.28 L438.90,253.30 L438.40,253.32 L437.90,253.34 L437.39,253.36 L436.88,253.37 L436.37,253.39 L435.85,253.40 L435.33,253.41 L434.81,253.43 L434.29,253.44 L433.76,253.45 L433.23,253.46 L432.70,253.46 L432.17,253.47 L431.64,253.48 L431.11,253.48 L430.58,253.49 L430.04,253.49 L429.51,253.49 L428.98,253.50 L428.45,253.50 L427.92,253.50 L427.39,253.50 L426.87,253.49 L426.35,253.49 L425.82,253.49 L425.31,253.49 L424.79,253.48 L424.28,253.48 L423.77,253.47 L423.26,253.47 L422.76,253.46 L422.27,253.45 L421.78,253.45 L421.29,253.44 L420.81,253.43 L420.33,253.42 L419.86,253.41 L419.40,253.40 L418.85,253.39 L418.30,253.38 L417.76,253.36 L417.22,253.35 L416.68,253.34 L416.14,253.32 L415.61,253.31 L415.08,253.29 L414.55,253.28 L414.02,253.26 L413.50,253.24 L412.98,253.22 L412.46,253.20 L411.94,253.18 L411.42,253.16 L410.91,253.14 L410.40,253.11 L409.90,253.09 L409.39,253.06 L408.89,253.03 L408.39,253.00 L407.89,252.97 L407.40,252.94 L406.90,252.91 L406.41,252.87 L405.92,252.83 L405.44,252.79 L404.96,252.75 L404.48,252.71 L404.00,252.66 L403.52,252.61 L403.05,252.56 L402.58,252.51 L402.11,252.45 L401.64,252.40 L401.18,252.34 L400.72,252.28 L400.26,252.21 L399.80,252.14 L399.35,252.07 L398.90,252.00 L398.36,251.91 L397.82,251.80 L397.28,251.69 L396.75,251.57 L396.21,251.45 L395.68,251.32 L395.16,251.18 L394.63,251.04 L394.11,250.89 L393.60,250.74 L393.08,250.59 L392.57,250.43 L392.06,250.27 L391.56,250.11 L391.06,249.95 L390.57,249.78 L390.07,249.62 L389.59,249.45 L389.11,249.29 L388.63,249.13 L388.16,248.97 L387.69,248.81 L387.22,248.66 L386.77,248.50 L386.31,248.36 L385.87,248.21 L385.42,248.08 L384.99,247.94 L384.56,247.82 L384.13,247.70 L383.72,247.59 L383.30,247.48 L382.90,247.39 L382.50,247.30 L381.87,247.18 L381.27,247.07 L380.69,246.98 L380.12,246.90 L379.58,246.84 L379.05,246.79 L378.54,246.74 L378.04,246.71 L377.56,246.69 L377.08,246.66 L376.61,246.65 L376.15,246.64 L375.69,246.62 L375.24,246.61 L374.78,246.60 L374.33,246.58 L373.88,246.56 L373.42,246.53 L372.95,246.50 L372.48,246.45 L372.00,246.40 L371.49,246.34 L370.98,246.28 L370.47,246.21 L369.95,246.15 L369.44,246.08 L368.93,246.02 L368.42,245.95 L367.92,245.88 L367.41,245.81 L366.91,245.74 L366.41,245.66 L365.91,245.58 L365.42,245.50 L364.93,245.41 L364.44,245.32 L363.96,245.23 L363.49,245.13 L363.02,245.02 L362.56,244.91 L362.10,244.80 L361.57,244.65 L361.06,244.49 L360.55,244.32 L360.05,244.13 L359.56,243.93 L359.08,243.73 L358.60,243.53 L358.13,243.32 L357.66,243.11 L357.19,242.90 L356.73,242.70 L356.26,242.50 L355.79,242.32 L355.33,242.14 L354.85,241.98 L354.38,241.83 L353.90,241.70 L353.40,241.58 L352.90,241.46 L352.42,241.35 L351.95,241.26 L351.48,241.17 L351.01,241.08 L350.53,241.01 L350.06,240.94 L349.57,240.89 L349.08,240.84 L348.57,240.79 L348.04,240.76 L347.49,240.73 L346.92,240.71 L346.33,240.70 L345.70,240.70 L345.26,240.70 L344.81,240.71 L344.33,240.73 L343.84,240.75 L343.33,240.78 L342.81,240.81 L342.29,240.85 L341.75,240.89 L341.20,240.93 L340.65,240.97 L340.10,241.02 L339.54,241.07 L338.99,241.13 L338.43,241.18 L337.89,241.24 L337.34,241.29 L336.80,241.35 L336.28,241.40 L335.76,241.46 L335.25,241.51 L334.76,241.56 L334.29,241.61 L333.84,241.66 L333.40,241.70 L332.77,241.75 L332.17,241.78 L331.59,241.80 L331.04,241.80 L330.49,241.80 L329.97,241.80 L329.46,241.80 L328.97,241.81 L328.49,241.83 L328.01,241.87 L327.55,241.93 L327.09,242.01 L326.64,242.13 L326.19,242.28 L325.75,242.47 L325.30,242.70 L324.93,242.94 L324.57,243.22 L324.21,243.53 L323.87,243.88 L323.53,244.26 L323.20,244.66 L322.87,245.08 L322.55,245.51 L322.23,245.95 L321.92,246.40 L321.61,246.85 L321.30,247.29 L320.99,247.73 L320.68,248.15 L320.37,248.55 L320.05,248.93 L319.74,249.29 L319.42,249.61 L319.10,249.90 L318.63,250.27 L318.16,250.58 L317.69,250.86 L317.22,251.10 L316.75,251.31 L316.28,251.50 L315.81,251.68 L315.34,251.86 L314.87,252.03 L314.41,252.22 L313.94,252.42 L313.47,252.64 L313.00,252.90 L312.56,253.16 L312.13,253.45 L311.69,253.74 L311.26,254.05 L310.83,254.37 L310.39,254.69 L309.96,255.01 L309.52,255.33 L309.09,255.64 L308.65,255.94 L308.21,256.23 L307.78,256.51 L307.34,256.77 L306.90,257.00 L306.43,257.24 L305.95,257.48 L305.47,257.71 L305.00,257.93 L304.52,258.14 L304.04,258.34 L303.56,258.53 L303.08,258.69 L302.60,258.83 L302.13,258.94 L301.65,259.03 L301.17,259.08 L300.70,259.10 L300.18,259.08 L299.64,259.02 L299.10,258.92 L298.55,258.79 L298.00,258.62 L297.46,258.44 L296.92,258.23 L296.41,258.00 L295.91,257.76 L295.44,257.51 L295.00,257.26 L294.60,257.00 L294.17,256.68 L293.79,256.32 L293.45,255.95 L293.14,255.55 L292.86,255.14 L292.60,254.71 L292.34,254.27 L292.07,253.82 L291.80,253.36 L291.50,252.90 L291.23,252.47 L290.98,252.02 L290.74,251.55 L290.50,251.08 L290.26,250.59 L290.01,250.11 L289.75,249.62 L289.46,249.15 L289.15,248.68 L288.79,248.23 L288.40,247.80 L288.07,247.47 L287.74,247.13 L287.41,246.78 L287.06,246.44 L286.71,246.09 L286.33,245.76 L285.94,245.43 L285.52,245.12 L285.07,244.82 L284.60,244.54 L284.08,244.29 L283.53,244.06 L282.94,243.86 L282.30,243.70 L281.91,243.62 L281.48,243.56 L281.02,243.51 L280.53,243.47 L280.01,243.44 L279.47,243.42 L278.91,243.40 L278.34,243.40 L277.75,243.40 L277.16,243.40 L276.56,243.42 L275.97,243.43 L275.37,243.45 L274.78,243.48 L274.21,243.50 L273.64,243.53 L273.10,243.56 L272.57,243.58 L272.07,243.61 L271.60,243.63 L271.16,243.66 L270.76,243.67 L270.40,243.69 L270.07,243.70 L269.80,243.70 Z" fill="#c0f7c0" fill-opacity="1.00" stroke="none" clip-path="url(#clipe)"/>
<path d="M269.80,241.70 C271.88,241.37 279.53,240.90 282.30,239.70 C285.07,238.50 285.38,235.70 286.40,234.50 C287.42,233.30 287.55,232.32 288.40,232.50 C289.25,232.68 290.13,233.90 291.50,235.60 C292.87,237.30 295.07,241.23 296.60,242.70 C298.13,244.17 298.98,244.73 300.70,244.40 C302.42,244.07 304.85,242.52 306.90,240.70 C308.95,238.88 310.97,236.23 313.00,233.50 C315.03,230.77 317.57,226.23 319.10,224.30 C320.63,222.37 320.83,222.07 322.20,221.90 C323.57,221.73 325.77,222.73 327.30,223.30 C328.83,223.87 329.70,225.13 331.40,225.30 C333.10,225.47 335.28,225.15 337.50,224.30 C339.72,223.45 341.97,220.72 344.70,220.20 C347.43,219.68 350.67,220.52 353.90,221.20 C357.13,221.88 360.70,223.43 364.10,224.30 C367.50,225.17 370.55,224.85 374.30,226.40 C378.05,227.95 382.50,231.90 386.60,233.60 C390.70,235.30 393.43,235.23 398.90,236.60 C404.37,237.97 414.28,241.28 419.40,241.80 C424.52,242.32 425.50,239.82 429.60,239.70 C433.70,239.58 438.73,240.52 444.00,241.10 C449.27,241.68 458.33,242.85 461.20,243.20" stroke="#5f915f" stroke-width="0.75" fill="none" stroke-linejoin="round" stroke-linecap="round" clip-path="url(#clipe)"/>
<path d="M269.80,243.70 C271.88,243.70 279.20,243.02 282.30,243.70 C285.40,244.38 286.87,246.27 288.40,247.80 C289.93,249.33 290.47,251.37 291.50,252.90 C292.53,254.43 293.07,255.97 294.60,257.00 C296.13,258.03 298.65,259.10 300.70,259.10 C302.75,259.10 304.85,258.03 306.90,257.00 C308.95,255.97 310.97,254.08 313.00,252.90 C315.03,251.72 317.05,251.60 319.10,249.90 C321.15,248.20 322.92,244.07 325.30,242.70 C327.68,241.33 330.00,242.03 333.40,241.70 C336.80,241.37 342.28,240.70 345.70,240.70 C349.12,240.70 351.17,241.02 353.90,241.70 C356.63,242.38 359.08,244.02 362.10,244.80 C365.12,245.58 368.60,245.98 372.00,246.40 C375.40,246.82 378.02,246.37 382.50,247.30 C386.98,248.23 392.75,250.98 398.90,252.00 C405.05,253.02 411.88,253.23 419.40,253.40 C426.92,253.57 437.03,253.57 444.00,253.00 C450.97,252.43 458.33,250.50 461.20,250.00" stroke="#5f915f" stroke-width="0.75" fill="none" stroke-linejoin="round" stroke-linecap="round" clip-path="url(#clipe)"/>
<path d="M269.80,243.20 C270.87,243.07 274.12,242.60 276.20,242.40 C278.28,242.20 280.43,242.35 282.30,242.00 C284.17,241.65 286.03,240.18 287.40,240.30 C288.77,240.42 289.30,241.45 290.50,242.70 C291.70,243.95 292.90,246.33 294.60,247.80 C296.30,249.27 298.65,251.15 300.70,251.50 C302.75,251.85 304.85,251.02 306.90,249.90 C308.95,248.78 310.97,246.85 313.00,244.80 C315.03,242.75 317.05,239.48 319.10,237.60 C321.15,235.72 323.60,234.35 325.30,233.50 C327.00,232.65 327.60,232.50 329.30,232.50 C331.00,232.50 332.77,233.73 335.50,233.50 C338.23,233.27 342.63,231.33 345.70,231.10 C348.77,230.87 351.17,231.47 353.90,232.10 C356.63,232.73 358.70,234.15 362.10,234.90 C365.50,235.65 370.57,235.70 374.30,236.60 C378.03,237.50 380.75,239.10 384.50,240.30 C388.25,241.50 392.70,242.87 396.80,243.80 C400.90,244.73 405.33,245.32 409.10,245.90 C412.87,246.48 415.63,247.20 419.40,247.30 C423.17,247.40 427.60,246.50 431.70,246.50 C435.80,246.50 439.08,247.30 444.00,247.30 C448.92,247.30 458.33,246.63 461.20,246.50" stroke="#22cc22" stroke-width="1.90" fill="none" stroke-linejoin="round" stroke-linecap="round" clip-path="url(#clipe)"/>
<path d="M505.80,240.70 L506.08,240.68 L506.42,240.65 L506.80,240.63 L507.24,240.61 L507.71,240.59 L508.21,240.56 L508.75,240.54 L509.30,240.51 L509.88,240.47 L510.46,240.44 L511.05,240.39 L511.64,240.34 L512.23,240.28 L512.80,240.21 L513.36,240.13 L513.89,240.04 L514.40,239.94 L514.87,239.83 L515.30,239.70 L515.85,239.50 L516.37,239.26 L516.87,239.00 L517.35,238.71 L517.81,238.40 L518.26,238.08 L518.69,237.74 L519.10,237.41 L519.51,237.07 L519.90,236.75 L520.29,236.43 L520.66,236.13 L521.03,235.85 L521.40,235.60 L521.94,235.23 L522.45,234.87 L522.91,234.52 L523.36,234.19 L523.79,233.88 L524.21,233.61 L524.63,233.39 L525.06,233.22 L525.50,233.10 L526.01,233.05 L526.52,233.09 L527.04,233.20 L527.55,233.35 L528.06,233.53 L528.58,233.73 L529.09,233.93 L529.60,234.10 L530.10,234.29 L530.58,234.52 L531.05,234.78 L531.53,235.04 L532.02,235.28 L532.53,235.47 L533.09,235.58 L533.70,235.60 L534.13,235.55 L534.58,235.46 L535.04,235.33 L535.51,235.16 L535.99,234.98 L536.49,234.77 L537.01,234.55 L537.54,234.33 L538.08,234.10 L538.64,233.89 L539.21,233.68 L539.80,233.50 L540.25,233.37 L540.72,233.23 L541.21,233.08 L541.70,232.93 L542.21,232.78 L542.72,232.63 L543.24,232.48 L543.77,232.33 L544.30,232.19 L544.83,232.06 L545.37,231.93 L545.90,231.81 L546.43,231.71 L546.96,231.62 L547.48,231.55 L548.00,231.50 L548.52,231.46 L549.04,231.45 L549.57,231.44 L550.10,231.45 L550.63,231.47 L551.17,231.50 L551.70,231.54 L552.23,231.59 L552.76,231.64 L553.28,231.70 L553.79,231.77 L554.30,231.83 L554.79,231.90 L555.28,231.97 L555.75,232.04 L556.20,232.10 L556.78,232.18 L557.34,232.27 L557.87,232.35 L558.39,232.44 L558.89,232.54 L559.38,232.64 L559.86,232.76 L560.34,232.88 L560.82,233.01 L561.31,233.16 L561.80,233.32 L562.30,233.50 L562.77,233.69 L563.24,233.90 L563.71,234.13 L564.17,234.38 L564.64,234.64 L565.11,234.90 L565.58,235.17 L566.05,235.44 L566.52,235.70 L566.99,235.95 L567.46,236.19 L567.93,236.41 L568.40,236.60 L568.91,236.80 L569.43,236.99 L569.95,237.18 L570.46,237.36 L570.98,237.54 L571.50,237.69 L572.02,237.84 L572.54,237.96 L573.05,238.06 L573.57,238.14 L574.09,238.18 L574.60,238.20 L575.09,238.17 L575.55,238.10 L575.99,238.00 L576.41,237.86 L576.83,237.70 L577.27,237.53 L577.72,237.34 L578.21,237.16 L578.74,236.99 L579.33,236.83 L579.97,236.70 L580.70,236.60 L581.10,236.56 L581.52,236.52 L581.96,236.49 L582.42,236.46 L582.90,236.43 L583.39,236.41 L583.90,236.38 L584.43,236.36 L584.96,236.34 L585.50,236.33 L586.05,236.31 L586.61,236.30 L587.16,236.29 L587.72,236.28 L588.28,236.27 L588.84,236.26 L589.39,236.25 L589.94,236.24 L590.48,236.24 L591.01,236.23 L591.53,236.22 L592.04,236.22 L592.53,236.21 L593.00,236.20 L593.56,236.19 L594.11,236.19 L594.65,236.18 L595.19,236.18 L595.73,236.19 L596.25,236.19 L596.78,236.19 L597.30,236.20 L597.81,236.21 L598.31,236.21 L598.81,236.22 L599.30,236.22 L599.79,236.23 L600.27,236.23 L600.74,236.23 L601.21,236.23 L601.67,236.23 L602.12,236.22 L602.56,236.21 L603.00,236.20 L603.59,236.17 L604.14,236.13 L604.65,236.08 L605.14,236.01 L605.60,235.95 L606.06,235.88 L606.51,235.81 L606.96,235.75 L607.43,235.69 L607.93,235.64 L608.45,235.61 L609.02,235.59 L609.63,235.58 L610.30,235.60 L610.71,235.62 L611.14,235.65 L611.57,235.68 L612.01,235.72 L612.47,235.76 L612.93,235.81 L613.40,235.87 L613.88,235.92 L614.37,235.98 L614.86,236.05 L615.37,236.11 L615.88,236.18 L616.40,236.25 L616.93,236.32 L617.47,236.39 L618.01,236.47 L618.56,236.54 L619.12,236.61 L619.68,236.68 L620.25,236.75 L620.83,236.82 L621.42,236.88 L622.00,236.94 L622.60,237.00 L623.05,237.04 L623.51,237.08 L623.97,237.12 L624.44,237.15 L624.91,237.19 L625.39,237.22 L625.88,237.25 L626.36,237.28 L626.86,237.31 L627.36,237.34 L627.86,237.37 L628.36,237.40 L628.87,237.43 L629.38,237.46 L629.90,237.49 L630.42,237.52 L630.94,237.55 L631.47,237.58 L631.99,237.62 L632.52,237.66 L633.06,237.69 L633.59,237.73 L634.13,237.78 L634.66,237.82 L635.20,237.87 L635.74,237.92 L636.28,237.98 L636.83,238.03 L637.37,238.09 L637.91,238.16 L638.46,238.23 L639.00,238.30 L639.47,238.37 L639.96,238.44 L640.45,238.53 L640.95,238.61 L641.45,238.71 L641.96,238.80 L642.47,238.91 L642.99,239.01 L643.52,239.12 L644.04,239.24 L644.58,239.35 L645.11,239.47 L645.64,239.59 L646.18,239.71 L646.71,239.83 L647.25,239.96 L647.78,240.08 L648.32,240.20 L648.85,240.32 L649.38,240.44 L649.90,240.56 L650.42,240.67 L650.94,240.79 L651.45,240.90 L651.96,241.00 L652.46,241.10 L652.96,241.20 L653.44,241.29 L653.92,241.37 L654.39,241.45 L654.86,241.53 L655.31,241.59 L655.75,241.65 L656.18,241.70 L656.60,241.74 L657.01,241.78 L657.40,241.80 L658.06,241.82 L658.67,241.82 L659.24,241.79 L659.78,241.74 L660.28,241.67 L660.76,241.59 L661.21,241.49 L661.64,241.38 L662.06,241.26 L662.47,241.12 L662.88,240.99 L663.28,240.84 L663.69,240.70 L664.11,240.56 L664.55,240.41 L665.00,240.27 L665.48,240.14 L665.98,240.01 L666.51,239.90 L667.09,239.79 L667.70,239.70 L668.12,239.65 L668.56,239.59 L669.01,239.53 L669.47,239.48 L669.94,239.42 L670.43,239.37 L670.92,239.31 L671.42,239.26 L671.93,239.20 L672.44,239.15 L672.97,239.10 L673.50,239.04 L674.03,238.99 L674.57,238.94 L675.11,238.89 L675.65,238.84 L676.20,238.80 L676.74,238.75 L677.29,238.71 L677.84,238.66 L678.38,238.62 L678.93,238.58 L679.47,238.54 L680.00,238.51 L680.54,238.47 L681.07,238.44 L681.59,238.41 L682.11,238.38 L682.62,238.36 L683.12,238.34 L683.62,238.32 L684.10,238.30 L684.65,238.28 L685.22,238.27 L685.80,238.27 L686.38,238.27 L686.97,238.27 L687.56,238.27 L688.16,238.28 L688.76,238.29 L689.35,238.31 L689.95,238.33 L690.54,238.35 L691.13,238.37 L691.70,238.39 L692.28,238.41 L692.83,238.44 L693.38,238.46 L693.92,238.49 L694.43,238.51 L694.94,238.54 L695.42,238.56 L695.88,238.59 L696.32,238.61 L696.74,238.63 L697.13,238.65 L697.49,238.67 L697.82,238.68 L698.13,238.69 L698.40,238.70 L698.40,246.50 L698.14,246.51 L697.85,246.53 L697.55,246.54 L697.22,246.56 L696.87,246.58 L696.50,246.59 L696.12,246.61 L695.71,246.63 L695.29,246.65 L694.86,246.67 L694.40,246.69 L693.94,246.71 L693.46,246.73 L692.96,246.75 L692.46,246.77 L691.94,246.80 L691.41,246.82 L690.87,246.85 L690.32,246.87 L689.77,246.89 L689.20,246.92 L688.63,246.95 L688.06,246.97 L687.47,247.00 L686.89,247.03 L686.30,247.05 L685.70,247.08 L685.11,247.11 L684.51,247.14 L683.91,247.17 L683.32,247.20 L682.72,247.23 L682.12,247.26 L681.53,247.29 L680.94,247.32 L680.36,247.35 L679.78,247.38 L679.20,247.41 L678.64,247.44 L678.08,247.48 L677.52,247.51 L676.98,247.54 L676.45,247.57 L675.92,247.60 L675.41,247.64 L674.91,247.67 L674.42,247.70 L673.94,247.74 L673.48,247.77 L673.04,247.80 L672.61,247.83 L672.20,247.87 L671.80,247.90 L671.10,247.96 L670.43,248.02 L669.78,248.09 L669.15,248.15 L668.55,248.22 L667.96,248.29 L667.38,248.36 L666.83,248.43 L666.29,248.50 L665.77,248.58 L665.26,248.65 L664.76,248.72 L664.28,248.80 L663.81,248.87 L663.35,248.95 L662.89,249.03 L662.45,249.10 L662.01,249.18 L661.58,249.26 L661.15,249.33 L660.73,249.41 L660.31,249.48 L659.90,249.56 L659.48,249.64 L659.07,249.71 L658.66,249.78 L658.24,249.86 L657.82,249.93 L657.40,250.00 L656.79,250.11 L656.20,250.22 L655.62,250.34 L655.06,250.46 L654.51,250.59 L653.97,250.71 L653.44,250.84 L652.92,250.97 L652.41,251.10 L651.91,251.22 L651.42,251.34 L650.93,251.45 L650.45,251.56 L649.98,251.65 L649.51,251.74 L649.04,251.82 L648.58,251.89 L648.12,251.94 L647.66,251.98 L647.20,252.00 L646.66,252.01 L646.16,252.01 L645.71,252.00 L645.30,251.97 L644.90,251.92 L644.52,251.87 L644.14,251.80 L643.74,251.72 L643.33,251.62 L642.89,251.52 L642.40,251.40 L641.87,251.26 L641.27,251.12 L640.60,250.96 L639.85,250.78 L639.00,250.60 L638.65,250.52 L638.29,250.44 L637.91,250.36 L637.53,250.27 L637.13,250.17 L636.72,250.07 L636.30,249.97 L635.86,249.86 L635.42,249.75 L634.97,249.64 L634.51,249.52 L634.04,249.40 L633.56,249.28 L633.08,249.16 L632.59,249.03 L632.09,248.91 L631.58,248.78 L631.07,248.65 L630.56,248.52 L630.04,248.39 L629.52,248.26 L628.99,248.13 L628.46,247.99 L627.93,247.86 L627.40,247.73 L626.86,247.61 L626.33,247.48 L625.79,247.35 L625.25,247.23 L624.72,247.11 L624.18,246.99 L623.65,246.87 L623.11,246.76 L622.59,246.64 L622.06,246.54 L621.54,246.43 L621.02,246.33 L620.50,246.24 L619.99,246.14 L619.49,246.06 L618.99,245.98 L618.50,245.90 L618.00,245.83 L617.50,245.75 L616.99,245.68 L616.49,245.61 L615.98,245.54 L615.47,245.48 L614.96,245.41 L614.45,245.35 L613.94,245.29 L613.43,245.23 L612.92,245.18 L612.40,245.12 L611.89,245.07 L611.38,245.02 L610.86,244.97 L610.35,244.92 L609.84,244.87 L609.33,244.83 L608.82,244.79 L608.30,244.75 L607.80,244.71 L607.29,244.68 L606.78,244.64 L606.27,244.61 L605.77,244.58 L605.26,244.56 L604.76,244.53 L604.26,244.51 L603.77,244.49 L603.27,244.47 L602.78,244.45 L602.29,244.44 L601.80,244.42 L601.31,244.41 L600.83,244.40 L600.35,244.40 L599.87,244.39 L599.40,244.39 L598.93,244.39 L598.46,244.40 L598.00,244.40 L597.44,244.41 L596.88,244.43 L596.32,244.45 L595.76,244.48 L595.20,244.51 L594.64,244.55 L594.08,244.59 L593.52,244.64 L592.96,244.69 L592.40,244.75 L591.84,244.81 L591.29,244.87 L590.74,244.94 L590.19,245.00 L589.65,245.07 L589.11,245.15 L588.58,245.22 L588.05,245.29 L587.53,245.37 L587.02,245.44 L586.51,245.52 L586.00,245.60 L585.51,245.67 L585.02,245.75 L584.55,245.82 L584.08,245.90 L583.62,245.97 L583.17,246.04 L582.73,246.11 L582.30,246.17 L581.88,246.23 L581.48,246.29 L581.08,246.35 L580.70,246.40 L579.94,246.51 L579.24,246.61 L578.60,246.71 L578.01,246.81 L577.47,246.91 L576.96,247.00 L576.48,247.10 L576.03,247.19 L575.60,247.28 L575.18,247.36 L574.76,247.44 L574.34,247.52 L573.91,247.60 L573.46,247.67 L573.00,247.74 L572.50,247.80 L571.98,247.86 L571.46,247.92 L570.93,247.98 L570.40,248.03 L569.87,248.09 L569.33,248.14 L568.80,248.18 L568.27,248.23 L567.74,248.26 L567.22,248.30 L566.71,248.33 L566.20,248.35 L565.71,248.37 L565.22,248.39 L564.75,248.40 L564.30,248.40 L563.72,248.40 L563.16,248.40 L562.63,248.39 L562.11,248.38 L561.61,248.36 L561.12,248.33 L560.64,248.28 L560.16,248.22 L559.68,248.15 L559.19,248.05 L558.70,247.94 L558.20,247.80 L557.74,247.65 L557.28,247.46 L556.84,247.25 L556.39,247.02 L555.95,246.78 L555.51,246.52 L555.06,246.26 L554.60,246.00 L554.13,245.74 L553.65,245.48 L553.15,245.24 L552.64,245.01 L552.10,244.80 L551.65,244.64 L551.18,244.47 L550.69,244.31 L550.20,244.14 L549.69,243.97 L549.18,243.81 L548.66,243.65 L548.13,243.50 L547.60,243.36 L547.07,243.22 L546.53,243.10 L546.00,242.99 L545.47,242.89 L544.94,242.81 L544.42,242.74 L543.90,242.70 L543.38,242.68 L542.86,242.68 L542.33,242.69 L541.80,242.73 L541.27,242.78 L540.73,242.84 L540.20,242.92 L539.67,243.00 L539.14,243.09 L538.62,243.18 L538.11,243.28 L537.60,243.37 L537.11,243.46 L536.62,243.55 L536.15,243.63 L535.70,243.70 L535.12,243.80 L534.56,243.91 L534.03,244.03 L533.51,244.16 L533.01,244.29 L532.53,244.42 L532.04,244.54 L531.56,244.64 L531.08,244.72 L530.60,244.78 L530.11,244.81 L529.60,244.80 L529.09,244.75 L528.59,244.66 L528.10,244.54 L527.61,244.39 L527.12,244.22 L526.62,244.04 L526.12,243.86 L525.61,243.67 L525.09,243.50 L524.54,243.34 L523.98,243.21 L523.40,243.10 L522.95,243.04 L522.49,242.99 L522.02,242.94 L521.54,242.90 L521.06,242.87 L520.56,242.84 L520.06,242.81 L519.56,242.79 L519.04,242.78 L518.52,242.76 L518.00,242.75 L517.47,242.74 L516.93,242.73 L516.39,242.72 L515.85,242.71 L515.30,242.70 L514.79,242.69 L514.25,242.68 L513.69,242.68 L513.10,242.67 L512.50,242.67 L511.89,242.67 L511.27,242.67 L510.65,242.67 L510.04,242.67 L509.45,242.68 L508.87,242.68 L508.31,242.69 L507.79,242.69 L507.30,242.69 L506.85,242.70 L506.45,242.70 L506.09,242.70 L505.80,242.70 Z" fill="#c0f7c0" fill-opacity="1.00" stroke="none" clip-path="url(#clipf)"/>
<path d="M505.80,240.70 C507.38,240.53 512.70,240.55 515.30,239.70 C517.90,238.85 519.70,236.70 521.40,235.60 C523.10,234.50 524.13,233.35 525.50,233.10 C526.87,232.85 528.23,233.68 529.60,234.10 C530.97,234.52 532.00,235.70 533.70,235.60 C535.40,235.50 537.42,234.18 539.80,233.50 C542.18,232.82 545.27,231.73 548.00,231.50 C550.73,231.27 553.82,231.77 556.20,232.10 C558.58,232.43 560.27,232.75 562.30,233.50 C564.33,234.25 566.35,235.82 568.40,236.60 C570.45,237.38 572.55,238.20 574.60,238.20 C576.65,238.20 577.63,236.93 580.70,236.60 C583.77,236.27 589.28,236.27 593.00,236.20 C596.72,236.13 600.12,236.30 603.00,236.20 C605.88,236.10 607.03,235.47 610.30,235.60 C613.57,235.73 617.82,236.55 622.60,237.00 C627.38,237.45 633.20,237.50 639.00,238.30 C644.80,239.10 652.62,241.57 657.40,241.80 C662.18,242.03 663.25,240.28 667.70,239.70 C672.15,239.12 678.98,238.47 684.10,238.30 C689.22,238.13 696.02,238.63 698.40,238.70" stroke="#5f915f" stroke-width="0.75" fill="none" stroke-linejoin="round" stroke-linecap="round" clip-path="url(#clipf)"/>
<path d="M505.80,242.70 C507.38,242.70 512.37,242.63 515.30,242.70 C518.23,242.77 521.02,242.75 523.40,243.10 C525.78,243.45 527.55,244.70 529.60,244.80 C531.65,244.90 533.32,244.05 535.70,243.70 C538.08,243.35 541.17,242.52 543.90,242.70 C546.63,242.88 549.72,243.95 552.10,244.80 C554.48,245.65 556.17,247.20 558.20,247.80 C560.23,248.40 561.92,248.40 564.30,248.40 C566.68,248.40 569.77,248.13 572.50,247.80 C575.23,247.47 576.45,246.97 580.70,246.40 C584.95,245.83 591.70,244.48 598.00,244.40 C604.30,244.32 611.67,244.87 618.50,245.90 C625.33,246.93 634.22,249.58 639.00,250.60 C643.78,251.62 644.13,252.10 647.20,252.00 C650.27,251.90 653.30,250.68 657.40,250.00 C661.50,249.32 664.97,248.48 671.80,247.90 C678.63,247.32 693.97,246.73 698.40,246.50" stroke="#5f915f" stroke-width="0.75" fill="none" stroke-linejoin="round" stroke-linecap="round" clip-path="url(#clipf)"/>
<path d="M505.80,241.70 C507.03,241.70 510.93,241.87 513.20,241.70 C515.47,241.53 517.52,241.22 519.40,240.70 C521.28,240.18 522.80,238.77 524.50,238.60 C526.20,238.43 527.90,239.52 529.60,239.70 C531.30,239.88 532.65,240.05 534.70,239.70 C536.75,239.35 539.68,238.02 541.90,237.60 C544.12,237.18 545.97,237.03 548.00,237.20 C550.03,237.37 552.05,238.02 554.10,238.60 C556.15,239.18 558.25,240.18 560.30,240.70 C562.35,241.22 564.37,241.30 566.40,241.70 C568.43,242.10 570.45,243.10 572.50,243.10 C574.55,243.10 575.97,242.03 578.70,241.70 C581.43,241.37 585.68,241.27 588.90,241.10 C592.12,240.93 594.43,240.70 598.00,240.70 C601.57,240.70 606.20,240.75 610.30,241.10 C614.40,241.45 617.82,242.12 622.60,242.80 C627.38,243.48 633.53,244.58 639.00,245.20 C644.47,245.82 650.97,246.63 655.40,246.50 C659.83,246.37 661.50,244.95 665.60,244.40 C669.70,243.85 674.53,243.53 680.00,243.20 C685.47,242.87 695.33,242.53 698.40,242.40" stroke="#22cc22" stroke-width="1.90" fill="none" stroke-linejoin="round" stroke-linecap="round" clip-path="url(#clipf)"/>
<path d="M87.60,16.30V152.00" stroke="#151515" stroke-width="1.45" stroke-dasharray="4.6 4.64" fill="none"/>
<path d="M321.10,17.40V152.00" stroke="#151515" stroke-width="1.45" stroke-dasharray="4.6 4.64" fill="none"/>
<path d="M557.65,17.40V152.00" stroke="#151515" stroke-width="1.45" stroke-dasharray="4.6 4.64" fill="none"/>
<path d="M82.97,214.90V267.90" stroke="#151515" stroke-width="1.45" stroke-dasharray="4.9 5.2" fill="none"/>
<path d="M319.56,214.90V267.90" stroke="#151515" stroke-width="1.45" stroke-dasharray="4.9 5.2" fill="none"/>
<path d="M556.07,214.90V267.90" stroke="#151515" stroke-width="1.45" stroke-dasharray="4.9 5.2" fill="none"/>
<path d="M39.50,152.00v2.20 M39.50,15.20v-2.20 M132.00,152.00v2.20 M132.00,15.20v-2.20 M224.50,152.00v2.20 M224.50,15.20v-2.20 M39.50,152.00v1.20 M39.50,15.20v-1.20 M58.00,152.00v1.20 M58.00,15.20v-1.20 M76.50,152.00v1.20 M76.50,15.20v-1.20 M95.00,152.00v1.20 M95.00,15.20v-1.20 M113.50,152.00v1.20 M113.50,15.20v-1.20 M132.00,152.00v1.20 M132.00,15.20v-1.20 M150.50,152.00v1.20 M150.50,15.20v-1.20 M169.00,152.00v1.20 M169.00,15.20v-1.20 M187.50,152.00v1.20 M187.50,15.20v-1.20 M206.00,152.00v1.20 M206.00,15.20v-1.20 M224.50,152.00v1.20 M224.50,15.20v-1.20 M39.50,37.40h-2.20 M224.50,37.40h2.20 M39.50,69.90h-2.20 M224.50,69.90h2.20 M39.50,102.40h-2.20 M224.50,102.40h2.20 M39.50,134.90h-2.20 M224.50,134.90h2.20 M39.50,147.90h-1.20 M224.50,147.90h1.20 M39.50,141.40h-1.20 M224.50,141.40h1.20 M39.50,134.90h-1.20 M224.50,134.90h1.20 M39.50,128.40h-1.20 M224.50,128.40h1.20 M39.50,121.90h-1.20 M224.50,121.90h1.20 M39.50,115.40h-1.20 M224.50,115.40h1.20 M39.50,108.90h-1.20 M224.50,108.90h1.20 M39.50,102.40h-1.20 M224.50,102.40h1.20 M39.50,95.90h-1.20 M224.50,95.90h1.20 M39.50,89.40h-1.20 M224.50,89.40h1.20 M39.50,82.90h-1.20 M224.50,82.90h1.20 M39.50,76.40h-1.20 M224.50,76.40h1.20 M39.50,69.90h-1.20 M224.50,69.90h1.20 M39.50,63.40h-1.20 M224.50,63.40h1.20 M39.50,56.90h-1.20 M224.50,56.90h1.20 M39.50,50.40h-1.20 M224.50,50.40h1.20 M39.50,43.90h-1.20 M224.50,43.90h1.20 M39.50,37.40h-1.20 M224.50,37.40h1.20 M39.50,30.90h-1.20 M224.50,30.90h1.20 M39.50,24.40h-1.20 M224.50,24.40h1.20 M39.50,17.90h-1.20 M224.50,17.90h1.20" stroke="#262626" stroke-width="0.8" fill="none"/>
<rect x="39.50" y="15.20" width="185.00" height="136.80" fill="none" stroke="#262626" stroke-width="1.1"/>
<path d="M271.80,152.00v2.20 M271.80,15.20v-2.20 M309.72,152.00v2.20 M309.72,15.20v-2.20 M347.64,152.00v2.20 M347.64,15.20v-2.20 M385.56,152.00v2.20 M385.56,15.20v-2.20 M423.48,152.00v2.20 M423.48,15.20v-2.20 M461.40,152.00v2.20 M461.40,15.20v-2.20 M271.80,152.00v1.20 M271.80,15.20v-1.20 M281.28,152.00v1.20 M281.28,15.20v-1.20 M290.76,152.00v1.20 M290.76,15.20v-1.20 M300.24,152.00v1.20 M300.24,15.20v-1.20 M309.72,152.00v1.20 M309.72,15.20v-1.20 M319.20,152.00v1.20 M319.20,15.20v-1.20 M328.68,152.00v1.20 M328.68,15.20v-1.20 M338.16,152.00v1.20 M338.16,15.20v-1.20 M347.64,152.00v1.20 M347.64,15.20v-1.20 M357.12,152.00v1.20 M357.12,15.20v-1.20 M366.60,152.00v1.20 M366.60,15.20v-1.20 M376.08,152.00v1.20 M376.08,15.20v-1.20 M385.56,152.00v1.20 M385.56,15.20v-1.20 M395.04,152.00v1.20 M395.04,15.20v-1.20 M404.52,152.00v1.20 M404.52,15.20v-1.20 M414.00,152.00v1.20 M414.00,15.20v-1.20 M423.48,152.00v1.20 M423.48,15.20v-1.20 M432.96,152.00v1.20 M432.96,15.20v-1.20 M442.44,152.00v1.20 M442.44,15.20v-1.20 M451.92,152.00v1.20 M451.92,15.20v-1.20 M461.40,152.00v1.20 M461.40,15.20v-1.20 M271.80,41.50h-2.20 M461.40,41.50h2.20 M271.80,73.95h-2.20 M461.40,73.95h2.20 M271.80,106.40h-2.20 M461.40,106.40h2.20 M271.80,138.85h-2.20 M461.40,138.85h2.20 M271.80,145.34h-1.20 M461.40,145.34h1.20 M271.80,138.85h-1.20 M461.40,138.85h1.20 M271.80,132.36h-1.20 M461.40,132.36h1.20 M271.80,125.87h-1.20 M461.40,125.87h1.20 M271.80,119.38h-1.20 M461.40,119.38h1.20 M271.80,112.89h-1.20 M461.40,112.89h1.20 M271.80,106.40h-1.20 M461.40,106.40h1.20 M271.80,99.91h-1.20 M461.40,99.91h1.20 M271.80,93.42h-1.20 M461.40,93.42h1.20 M271.80,86.93h-1.20 M461.40,86.93h1.20 M271.80,80.44h-1.20 M461.40,80.44h1.20 M271.80,73.95h-1.20 M461.40,73.95h1.20 M271.80,67.46h-1.20 M461.40,67.46h1.20 M271.80,60.97h-1.20 M461.40,60.97h1.20 M271.80,54.48h-1.20 M461.40,54.48h1.20 M271.80,47.99h-1.20 M461.40,47.99h1.20 M271.80,41.50h-1.20 M461.40,41.50h1.20 M271.80,35.01h-1.20 M461.40,35.01h1.20 M271.80,28.52h-1.20 M461.40,28.52h1.20 M271.80,22.03h-1.20 M461.40,22.03h1.20 M271.80,15.54h-1.20 M461.40,15.54h1.20" stroke="#262626" stroke-width="0.8" fill="none"/>
<rect x="271.80" y="15.20" width="189.60" height="136.80" fill="none" stroke="#262626" stroke-width="1.1"/>
<path d="M508.30,152.00v2.20 M508.30,15.20v-2.20 M546.26,152.00v2.20 M546.26,15.20v-2.20 M584.22,152.00v2.20 M584.22,15.20v-2.20 M622.18,152.00v2.20 M622.18,15.20v-2.20 M660.14,152.00v2.20 M660.14,15.20v-2.20 M698.10,152.00v2.20 M698.10,15.20v-2.20 M508.30,152.00v1.20 M508.30,15.20v-1.20 M517.79,152.00v1.20 M517.79,15.20v-1.20 M527.28,152.00v1.20 M527.28,15.20v-1.20 M536.77,152.00v1.20 M536.77,15.20v-1.20 M546.26,152.00v1.20 M546.26,15.20v-1.20 M555.75,152.00v1.20 M555.75,15.20v-1.20 M565.24,152.00v1.20 M565.24,15.20v-1.20 M574.73,152.00v1.20 M574.73,15.20v-1.20 M584.22,152.00v1.20 M584.22,15.20v-1.20 M593.71,152.00v1.20 M593.71,15.20v-1.20 M603.20,152.00v1.20 M603.20,15.20v-1.20 M612.69,152.00v1.20 M612.69,15.20v-1.20 M622.18,152.00v1.20 M622.18,15.20v-1.20 M631.67,152.00v1.20 M631.67,15.20v-1.20 M641.16,152.00v1.20 M641.16,15.20v-1.20 M650.65,152.00v1.20 M650.65,15.20v-1.20 M660.14,152.00v1.20 M660.14,15.20v-1.20 M669.63,152.00v1.20 M669.63,15.20v-1.20 M679.12,152.00v1.20 M679.12,15.20v-1.20 M688.61,152.00v1.20 M688.61,15.20v-1.20 M698.10,152.00v1.20 M698.10,15.20v-1.20 M508.30,28.40h-2.20 M698.10,28.40h2.20 M508.30,60.90h-2.20 M698.10,60.90h2.20 M508.30,93.40h-2.20 M698.10,93.40h2.20 M508.30,125.90h-2.20 M698.10,125.90h2.20 M508.30,151.90h-1.20 M698.10,151.90h1.20 M508.30,145.40h-1.20 M698.10,145.40h1.20 M508.30,138.90h-1.20 M698.10,138.90h1.20 M508.30,132.40h-1.20 M698.10,132.40h1.20 M508.30,125.90h-1.20 M698.10,125.90h1.20 M508.30,119.40h-1.20 M698.10,119.40h1.20 M508.30,112.90h-1.20 M698.10,112.90h1.20 M508.30,106.40h-1.20 M698.10,106.40h1.20 M508.30,99.90h-1.20 M698.10,99.90h1.20 M508.30,93.40h-1.20 M698.10,93.40h1.20 M508.30,86.90h-1.20 M698.10,86.90h1.20 M508.30,80.40h-1.20 M698.10,80.40h1.20 M508.30,73.90h-1.20 M698.10,73.90h1.20 M508.30,67.40h-1.20 M698.10,67.40h1.20 M508.30,60.90h-1.20 M698.10,60.90h1.20 M508.30,54.40h-1.20 M698.10,54.40h1.20 M508.30,47.90h-1.20 M698.10,47.90h1.20 M508.30,41.40h-1.20 M698.10,41.40h1.20 M508.30,34.90h-1.20 M698.10,34.90h1.20 M508.30,28.40h-1.20 M698.10,28.40h1.20 M508.30,21.90h-1.20 M698.10,21.90h1.20 M508.30,15.40h-1.20 M698.10,15.40h1.20" stroke="#262626" stroke-width="0.8" fill="none"/>
<rect x="508.30" y="15.20" width="189.80" height="136.80" fill="none" stroke="#262626" stroke-width="1.1"/>
<path d="M33.10,267.90v2.20 M33.10,214.60v-2.20 M71.46,267.90v2.20 M71.46,214.60v-2.20 M109.82,267.90v2.20 M109.82,214.60v-2.20 M148.18,267.90v2.20 M148.18,214.60v-2.20 M186.54,267.90v2.20 M186.54,214.60v-2.20 M224.90,267.90v2.20 M224.90,214.60v-2.20 M33.10,267.90v1.20 M33.10,214.60v-1.20 M42.69,267.90v1.20 M42.69,214.60v-1.20 M52.28,267.90v1.20 M52.28,214.60v-1.20 M61.87,267.90v1.20 M61.87,214.60v-1.20 M71.46,267.90v1.20 M71.46,214.60v-1.20 M81.05,267.90v1.20 M81.05,214.60v-1.20 M90.64,267.90v1.20 M90.64,214.60v-1.20 M100.23,267.90v1.20 M100.23,214.60v-1.20 M109.82,267.90v1.20 M109.82,214.60v-1.20 M119.41,267.90v1.20 M119.41,214.60v-1.20 M129.00,267.90v1.20 M129.00,214.60v-1.20 M138.59,267.90v1.20 M138.59,214.60v-1.20 M148.18,267.90v1.20 M148.18,214.60v-1.20 M157.77,267.90v1.20 M157.77,214.60v-1.20 M167.36,267.90v1.20 M167.36,214.60v-1.20 M176.95,267.90v1.20 M176.95,214.60v-1.20 M186.54,267.90v1.20 M186.54,214.60v-1.20 M196.13,267.90v1.20 M196.13,214.60v-1.20 M205.72,267.90v1.20 M205.72,214.60v-1.20 M215.31,267.90v1.20 M215.31,214.60v-1.20 M224.90,267.90v1.20 M224.90,214.60v-1.20 M33.10,214.60h-2.20 M224.90,214.60h2.20 M33.10,227.92h-2.20 M224.90,227.92h2.20 M33.10,241.25h-2.20 M224.90,241.25h2.20 M33.10,254.57h-2.20 M224.90,254.57h2.20 M33.10,267.90h-2.20 M224.90,267.90h2.20 M33.10,267.90h-1.20 M224.90,267.90h1.20 M33.10,264.57h-1.20 M224.90,264.57h1.20 M33.10,261.24h-1.20 M224.90,261.24h1.20 M33.10,257.91h-1.20 M224.90,257.91h1.20 M33.10,254.57h-1.20 M224.90,254.57h1.20 M33.10,251.24h-1.20 M224.90,251.24h1.20 M33.10,247.91h-1.20 M224.90,247.91h1.20 M33.10,244.58h-1.20 M224.90,244.58h1.20 M33.10,241.25h-1.20 M224.90,241.25h1.20 M33.10,237.92h-1.20 M224.90,237.92h1.20 M33.10,234.59h-1.20 M224.90,234.59h1.20 M33.10,231.26h-1.20 M224.90,231.26h1.20 M33.10,227.92h-1.20 M224.90,227.92h1.20 M33.10,224.59h-1.20 M224.90,224.59h1.20 M33.10,221.26h-1.20 M224.90,221.26h1.20 M33.10,217.93h-1.20 M224.90,217.93h1.20 M33.10,214.60h-1.20 M224.90,214.60h1.20" stroke="#262626" stroke-width="0.8" fill="none"/>
<rect x="33.10" y="214.60" width="191.80" height="53.30" fill="none" stroke="#262626" stroke-width="1.1"/>
<path d="M269.80,267.90v2.20 M269.80,214.60v-2.20 M308.08,267.90v2.20 M308.08,214.60v-2.20 M346.36,267.90v2.20 M346.36,214.60v-2.20 M384.64,267.90v2.20 M384.64,214.60v-2.20 M422.92,267.90v2.20 M422.92,214.60v-2.20 M461.20,267.90v2.20 M461.20,214.60v-2.20 M269.80,267.90v1.20 M269.80,214.60v-1.20 M279.37,267.90v1.20 M279.37,214.60v-1.20 M288.94,267.90v1.20 M288.94,214.60v-1.20 M298.51,267.90v1.20 M298.51,214.60v-1.20 M308.08,267.90v1.20 M308.08,214.60v-1.20 M317.65,267.90v1.20 M317.65,214.60v-1.20 M327.22,267.90v1.20 M327.22,214.60v-1.20 M336.79,267.90v1.20 M336.79,214.60v-1.20 M346.36,267.90v1.20 M346.36,214.60v-1.20 M355.93,267.90v1.20 M355.93,214.60v-1.20 M365.50,267.90v1.20 M365.50,214.60v-1.20 M375.07,267.90v1.20 M375.07,214.60v-1.20 M384.64,267.90v1.20 M384.64,214.60v-1.20 M394.21,267.90v1.20 M394.21,214.60v-1.20 M403.78,267.90v1.20 M403.78,214.60v-1.20 M413.35,267.90v1.20 M413.35,214.60v-1.20 M422.92,267.90v1.20 M422.92,214.60v-1.20 M432.49,267.90v1.20 M432.49,214.60v-1.20 M442.06,267.90v1.20 M442.06,214.60v-1.20 M451.63,267.90v1.20 M451.63,214.60v-1.20 M461.20,267.90v1.20 M461.20,214.60v-1.20 M269.80,218.58h-2.20 M461.20,218.58h2.20 M269.80,231.84h-2.20 M461.20,231.84h2.20 M269.80,245.10h-2.20 M461.20,245.10h2.20 M269.80,258.36h-2.20 M461.20,258.36h2.20 M269.80,264.99h-1.20 M461.20,264.99h1.20 M269.80,261.68h-1.20 M461.20,261.68h1.20 M269.80,258.36h-1.20 M461.20,258.36h1.20 M269.80,255.04h-1.20 M461.20,255.04h1.20 M269.80,251.73h-1.20 M461.20,251.73h1.20 M269.80,248.41h-1.20 M461.20,248.41h1.20 M269.80,245.10h-1.20 M461.20,245.10h1.20 M269.80,241.78h-1.20 M461.20,241.78h1.20 M269.80,238.47h-1.20 M461.20,238.47h1.20 M269.80,235.16h-1.20 M461.20,235.16h1.20 M269.80,231.84h-1.20 M461.20,231.84h1.20 M269.80,228.53h-1.20 M461.20,228.53h1.20 M269.80,225.21h-1.20 M461.20,225.21h1.20 M269.80,221.89h-1.20 M461.20,221.89h1.20 M269.80,218.58h-1.20 M461.20,218.58h1.20 M269.80,215.26h-1.20 M461.20,215.26h1.20" stroke="#262626" stroke-width="0.8" fill="none"/>
<rect x="269.80" y="214.60" width="191.40" height="53.30" fill="none" stroke="#262626" stroke-width="1.1"/>
<path d="M506.20,267.90v2.20 M506.20,214.60v-2.20 M544.56,267.90v2.20 M544.56,214.60v-2.20 M582.92,267.90v2.20 M582.92,214.60v-2.20 M621.28,267.90v2.20 M621.28,214.60v-2.20 M659.64,267.90v2.20 M659.64,214.60v-2.20 M698.00,267.90v2.20 M698.00,214.60v-2.20 M506.20,267.90v1.20 M506.20,214.60v-1.20 M515.79,267.90v1.20 M515.79,214.60v-1.20 M525.38,267.90v1.20 M525.38,214.60v-1.20 M534.97,267.90v1.20 M534.97,214.60v-1.20 M544.56,267.90v1.20 M544.56,214.60v-1.20 M554.15,267.90v1.20 M554.15,214.60v-1.20 M563.74,267.90v1.20 M563.74,214.60v-1.20 M573.33,267.90v1.20 M573.33,214.60v-1.20 M582.92,267.90v1.20 M582.92,214.60v-1.20 M592.51,267.90v1.20 M592.51,214.60v-1.20 M602.10,267.90v1.20 M602.10,214.60v-1.20 M611.69,267.90v1.20 M611.69,214.60v-1.20 M621.28,267.90v1.20 M621.28,214.60v-1.20 M630.87,267.90v1.20 M630.87,214.60v-1.20 M640.46,267.90v1.20 M640.46,214.60v-1.20 M650.05,267.90v1.20 M650.05,214.60v-1.20 M659.64,267.90v1.20 M659.64,214.60v-1.20 M669.23,267.90v1.20 M669.23,214.60v-1.20 M678.82,267.90v1.20 M678.82,214.60v-1.20 M688.41,267.90v1.20 M688.41,214.60v-1.20 M698.00,267.90v1.20 M698.00,214.60v-1.20 M506.20,214.60h-2.20 M698.00,214.60h2.20 M506.20,227.92h-2.20 M698.00,227.92h2.20 M506.20,241.25h-2.20 M698.00,241.25h2.20 M506.20,254.57h-2.20 M698.00,254.57h2.20 M506.20,267.90h-2.20 M698.00,267.90h2.20 M506.20,267.90h-1.20 M698.00,267.90h1.20 M506.20,264.57h-1.20 M698.00,264.57h1.20 M506.20,261.24h-1.20 M698.00,261.24h1.20 M506.20,257.91h-1.20 M698.00,257.91h1.20 M506.20,254.57h-1.20 M698.00,254.57h1.20 M506.20,251.24h-1.20 M698.00,251.24h1.20 M506.20,247.91h-1.20 M698.00,247.91h1.20 M506.20,244.58h-1.20 M698.00,244.58h1.20 M506.20,241.25h-1.20 M698.00,241.25h1.20 M506.20,237.92h-1.20 M698.00,237.92h1.20 M506.20,234.59h-1.20 M698.00,234.59h1.20 M506.20,231.26h-1.20 M698.00,231.26h1.20 M506.20,227.92h-1.20 M698.00,227.92h1.20 M506.20,224.59h-1.20 M698.00,224.59h1.20 M506.20,221.26h-1.20 M698.00,221.26h1.20 M506.20,217.93h-1.20 M698.00,217.93h1.20 M506.20,214.60h-1.20 M698.00,214.60h1.20" stroke="#262626" stroke-width="0.8" fill="none"/>
<rect x="506.20" y="214.60" width="191.80" height="53.30" fill="none" stroke="#262626" stroke-width="1.1"/>
<text x="39.50" y="168.60" font-size="12.50" text-anchor="middle" fill="#262626" >0</text>
<text x="132.00" y="168.60" font-size="12.50" text-anchor="middle" fill="#262626" >50</text>
<text x="224.50" y="168.60" font-size="12.50" text-anchor="middle" fill="#262626" >100</text>
<text x="33.80" y="41.60" font-size="12.50" text-anchor="end" fill="#262626" >5</text>
<text x="33.80" y="74.10" font-size="12.50" text-anchor="end" fill="#262626" >0</text>
<text x="33.80" y="106.60" font-size="12.50" text-anchor="end" fill="#262626" >-5</text>
<text x="33.80" y="139.10" font-size="12.50" text-anchor="end" fill="#262626" >-10</text>
<text x="271.80" y="168.90" font-size="12.50" text-anchor="middle" fill="#262626" >0</text>
<text x="309.72" y="168.90" font-size="12.50" text-anchor="middle" fill="#262626" >20</text>
<text x="347.64" y="168.90" font-size="12.50" text-anchor="middle" fill="#262626" >40</text>
<text x="385.56" y="168.90" font-size="12.50" text-anchor="middle" fill="#262626" >60</text>
<text x="423.48" y="168.90" font-size="12.50" text-anchor="middle" fill="#262626" >80</text>
<text x="461.40" y="168.90" font-size="12.50" text-anchor="middle" fill="#262626" >100</text>
<text x="266.30" y="45.70" font-size="12.50" text-anchor="end" fill="#262626" >10</text>
<text x="266.30" y="78.15" font-size="12.50" text-anchor="end" fill="#262626" >5</text>
<text x="266.30" y="110.60" font-size="12.50" text-anchor="end" fill="#262626" >0</text>
<text x="266.30" y="143.05" font-size="12.50" text-anchor="end" fill="#262626" >-5</text>
<text x="508.30" y="168.90" font-size="12.50" text-anchor="middle" fill="#262626" >0</text>
<text x="546.26" y="168.90" font-size="12.50" text-anchor="middle" fill="#262626" >20</text>
<text x="584.22" y="168.90" font-size="12.50" text-anchor="middle" fill="#262626" >40</text>
<text x="622.18" y="168.90" font-size="12.50" text-anchor="middle" fill="#262626" >60</text>
<text x="660.14" y="168.90" font-size="12.50" text-anchor="middle" fill="#262626" >80</text>
<text x="698.10" y="168.90" font-size="12.50" text-anchor="middle" fill="#262626" >100</text>
<text x="503.00" y="32.60" font-size="12.50" text-anchor="end" fill="#262626" >10</text>
<text x="503.00" y="65.10" font-size="12.50" text-anchor="end" fill="#262626" >5</text>
<text x="503.00" y="97.60" font-size="12.50" text-anchor="end" fill="#262626" >0</text>
<text x="503.00" y="130.10" font-size="12.50" text-anchor="end" fill="#262626" >-5</text>
<text x="33.10" y="284.60" font-size="12.50" text-anchor="middle" fill="#262626" >0</text>
<text x="71.46" y="284.60" font-size="12.50" text-anchor="middle" fill="#262626" >20</text>
<text x="109.82" y="284.60" font-size="12.50" text-anchor="middle" fill="#262626" >40</text>
<text x="148.18" y="284.60" font-size="12.50" text-anchor="middle" fill="#262626" >60</text>
<text x="186.54" y="284.60" font-size="12.50" text-anchor="middle" fill="#262626" >80</text>
<text x="224.90" y="284.60" font-size="12.50" text-anchor="middle" fill="#262626" >100</text>
<text x="27.90" y="219.40" font-size="12.50" text-anchor="end" fill="#262626" >2</text>
<text x="27.90" y="232.72" font-size="12.50" text-anchor="end" fill="#262626" >0</text>
<text x="27.90" y="246.05" font-size="12.50" text-anchor="end" fill="#262626" >-2</text>
<text x="27.90" y="259.38" font-size="12.50" text-anchor="end" fill="#262626" >-4</text>
<text x="27.90" y="272.70" font-size="12.50" text-anchor="end" fill="#262626" >-6</text>
<text x="269.80" y="284.60" font-size="12.50" text-anchor="middle" fill="#262626" >0</text>
<text x="308.08" y="284.60" font-size="12.50" text-anchor="middle" fill="#262626" >20</text>
<text x="346.36" y="284.60" font-size="12.50" text-anchor="middle" fill="#262626" >40</text>
<text x="384.64" y="284.60" font-size="12.50" text-anchor="middle" fill="#262626" >60</text>
<text x="422.92" y="284.60" font-size="12.50" text-anchor="middle" fill="#262626" >80</text>
<text x="461.20" y="284.60" font-size="12.50" text-anchor="middle" fill="#262626" >100</text>
<text x="263.30" y="223.38" font-size="12.50" text-anchor="end" fill="#262626" >4</text>
<text x="263.30" y="236.64" font-size="12.50" text-anchor="end" fill="#262626" >2</text>
<text x="263.30" y="249.90" font-size="12.50" text-anchor="end" fill="#262626" >0</text>
<text x="263.30" y="263.16" font-size="12.50" text-anchor="end" fill="#262626" >-2</text>
<text x="506.20" y="284.60" font-size="12.50" text-anchor="middle" fill="#262626" >0</text>
<text x="544.56" y="284.60" font-size="12.50" text-anchor="middle" fill="#262626" >20</text>
<text x="582.92" y="284.60" font-size="12.50" text-anchor="middle" fill="#262626" >40</text>
<text x="621.28" y="284.60" font-size="12.50" text-anchor="middle" fill="#262626" >60</text>
<text x="659.64" y="284.60" font-size="12.50" text-anchor="middle" fill="#262626" >80</text>
<text x="698.00" y="284.60" font-size="12.50" text-anchor="middle" fill="#262626" >100</text>
<text x="501.30" y="219.40" font-size="12.50" text-anchor="end" fill="#262626" >4</text>
<text x="501.30" y="232.72" font-size="12.50" text-anchor="end" fill="#262626" >2</text>
<text x="501.30" y="246.05" font-size="12.50" text-anchor="end" fill="#262626" >0</text>
<text x="501.30" y="259.38" font-size="12.50" text-anchor="end" fill="#262626" >-2</text>
<text x="501.30" y="272.70" font-size="12.50" text-anchor="end" fill="#262626" >-4</text>
<text x="36.70" y="183.70" font-size="13.60" text-anchor="start" fill="#262626" textLength="63.50" lengthAdjust="spacingAndGlyphs" >percentage</text>
<text x="105.00" y="183.70" font-size="13.60" text-anchor="start" fill="#262626" textLength="11.50" lengthAdjust="spacingAndGlyphs" >of</text>
<text x="121.00" y="183.70" font-size="13.60" text-anchor="start" fill="#262626" textLength="25.00" lengthAdjust="spacingAndGlyphs" >STS</text>
<text x="150.30" y="183.70" font-size="13.60" text-anchor="start" fill="#262626" textLength="59.90" lengthAdjust="spacingAndGlyphs" >movement</text>
<text x="216.90" y="183.70" font-size="13.60" text-anchor="start" fill="#262626" textLength="10.40" lengthAdjust="spacingAndGlyphs" >[-]</text>
<text x="271.30" y="183.70" font-size="13.60" text-anchor="start" fill="#262626" textLength="63.50" lengthAdjust="spacingAndGlyphs" >percentage</text>
<text x="339.60" y="183.70" font-size="13.60" text-anchor="start" fill="#262626" textLength="11.50" lengthAdjust="spacingAndGlyphs" >of</text>
<text x="355.60" y="183.70" font-size="13.60" text-anchor="start" fill="#262626" textLength="25.00" lengthAdjust="spacingAndGlyphs" >STS</text>
<text x="384.90" y="183.70" font-size="13.60" text-anchor="start" fill="#262626" textLength="59.90" lengthAdjust="spacingAndGlyphs" >movement</text>
<text x="451.50" y="183.70" font-size="13.60" text-anchor="start" fill="#262626" textLength="10.40" lengthAdjust="spacingAndGlyphs" >[-]</text>
<text x="507.90" y="183.70" font-size="13.60" text-anchor="start" fill="#262626" textLength="63.50" lengthAdjust="spacingAndGlyphs" >percentage</text>
<text x="576.20" y="183.70" font-size="13.60" text-anchor="start" fill="#262626" textLength="11.50" lengthAdjust="spacingAndGlyphs" >of</text>
<text x="592.20" y="183.70" font-size="13.60" text-anchor="start" fill="#262626" textLength="25.00" lengthAdjust="spacingAndGlyphs" >STS</text>
<text x="621.50" y="183.70" font-size="13.60" text-anchor="start" fill="#262626" textLength="59.90" lengthAdjust="spacingAndGlyphs" >movement</text>
<text x="688.10" y="183.70" font-size="13.60" text-anchor="start" fill="#262626" textLength="10.40" lengthAdjust="spacingAndGlyphs" >[-]</text>
<text x="33.70" y="299.60" font-size="13.60" text-anchor="start" fill="#262626" textLength="63.50" lengthAdjust="spacingAndGlyphs" >percentage</text>
<text x="102.00" y="299.60" font-size="13.60" text-anchor="start" fill="#262626" textLength="11.50" lengthAdjust="spacingAndGlyphs" >of</text>
<text x="118.00" y="299.60" font-size="13.60" text-anchor="start" fill="#262626" textLength="25.00" lengthAdjust="spacingAndGlyphs" >STS</text>
<text x="147.30" y="299.60" font-size="13.60" text-anchor="start" fill="#262626" textLength="59.90" lengthAdjust="spacingAndGlyphs" >movement</text>
<text x="213.90" y="299.60" font-size="13.60" text-anchor="start" fill="#262626" textLength="10.40" lengthAdjust="spacingAndGlyphs" >[-]</text>
<text x="270.20" y="299.60" font-size="13.60" text-anchor="start" fill="#262626" textLength="63.50" lengthAdjust="spacingAndGlyphs" >percentage</text>
<text x="338.50" y="299.60" font-size="13.60" text-anchor="start" fill="#262626" textLength="11.50" lengthAdjust="spacingAndGlyphs" >of</text>
<text x="354.50" y="299.60" font-size="13.60" text-anchor="start" fill="#262626" textLength="25.00" lengthAdjust="spacingAndGlyphs" >STS</text>
<text x="383.80" y="299.60" font-size="13.60" text-anchor="start" fill="#262626" textLength="59.90" lengthAdjust="spacingAndGlyphs" >movement</text>
<text x="450.40" y="299.60" font-size="13.60" text-anchor="start" fill="#262626" textLength="10.40" lengthAdjust="spacingAndGlyphs" >[-]</text>
<text x="506.80" y="299.60" font-size="13.60" text-anchor="start" fill="#262626" textLength="63.50" lengthAdjust="spacingAndGlyphs" >percentage</text>
<text x="575.10" y="299.60" font-size="13.60" text-anchor="start" fill="#262626" textLength="11.50" lengthAdjust="spacingAndGlyphs" >of</text>
<text x="591.10" y="299.60" font-size="13.60" text-anchor="start" fill="#262626" textLength="25.00" lengthAdjust="spacingAndGlyphs" >STS</text>
<text x="620.40" y="299.60" font-size="13.60" text-anchor="start" fill="#262626" textLength="59.90" lengthAdjust="spacingAndGlyphs" >movement</text>
<text x="687.00" y="299.60" font-size="13.60" text-anchor="start" fill="#262626" textLength="10.40" lengthAdjust="spacingAndGlyphs" >[-]</text>
<text x="131.00" y="7.30" font-size="11.60" text-anchor="middle" fill="#111" textLength="43.00" lengthAdjust="spacingAndGlyphs" >hip torque</text>
<text x="367.90" y="7.20" font-size="11.60" text-anchor="middle" fill="#111" textLength="49.80" lengthAdjust="spacingAndGlyphs" >knee torque</text>
<text x="604.00" y="7.20" font-size="11.60" text-anchor="middle" fill="#111" textLength="52.70" lengthAdjust="spacingAndGlyphs" >ankle torque</text>
<text x="131.20" y="209.00" font-size="11.40" text-anchor="middle" fill="#111" textLength="67.00" lengthAdjust="spacingAndGlyphs" >hip torque error</text>
<text x="367.30" y="209.00" font-size="11.40" text-anchor="middle" fill="#111" textLength="72.70" lengthAdjust="spacingAndGlyphs" >knee torque error</text>
<text x="603.30" y="208.80" font-size="11.40" text-anchor="middle" fill="#111" textLength="76.00" lengthAdjust="spacingAndGlyphs" >ankle torque error</text>
<text x="1.60" y="17.60" font-size="24.50" text-anchor="start" fill="#000" font-weight="bold" >a</text>
<text x="239.20" y="17.30" font-size="23.50" text-anchor="start" fill="#000" font-weight="bold" >b</text>
<text x="474.20" y="17.60" font-size="24.50" text-anchor="start" fill="#000" font-weight="bold" >c</text>
<text x="1.60" y="201.00" font-size="23.80" text-anchor="start" fill="#000" font-weight="bold" >d</text>
<text x="237.40" y="201.90" font-size="25.50" text-anchor="start" fill="#000" font-weight="bold" >e</text>
<text x="474.30" y="201.70" font-size="25.50" text-anchor="start" fill="#000" font-weight="bold" >f</text>
<text transform="translate(11.20,82.30) rotate(-90)" text-anchor="middle" font-size="13" fill="#1a1a1a"><tspan font-style="italic" font-size="16">&#964;</tspan> [Nm]</text>
<text transform="translate(246.90,82.30) rotate(-90)" text-anchor="middle" font-size="13" fill="#1a1a1a"><tspan font-style="italic" font-size="16">&#964;</tspan> [Nm]</text>
<text transform="translate(482.90,82.30) rotate(-90)" text-anchor="middle" font-size="13" fill="#1a1a1a"><tspan font-style="italic" font-size="16">&#964;</tspan> [Nm]</text>
<text transform="translate(10.50,239.60) rotate(-90) scale(1.000)" text-anchor="middle" font-size="13" fill="#1a1a1a"><tspan font-style="italic" font-size="14">&#964;</tspan><tspan font-style="italic" font-size="10" dy="3">error</tspan><tspan dy="-3"> [Nm]</tspan></text>
<text transform="translate(247.20,242.00) rotate(-90) scale(1.120)" text-anchor="middle" font-size="13" fill="#1a1a1a"><tspan font-style="italic" font-size="14">&#964;</tspan><tspan font-style="italic" font-size="10" dy="3">error</tspan><tspan dy="-3"> [Nm]</tspan></text>
<text transform="translate(484.40,240.60) rotate(-90) scale(1.090)" text-anchor="middle" font-size="13" fill="#1a1a1a"><tspan font-style="italic" font-size="14">&#964;</tspan><tspan font-style="italic" font-size="10" dy="3">error</tspan><tspan dy="-3"> [Nm]</tspan></text>
<rect x="639.80" y="15.20" width="58.30" height="74.20" fill="#fff" stroke="#262626" stroke-width="0.75"/>
<path d="M642,22.4H659.6" stroke="#4fe3e6" stroke-width="3"/>
<path d="M642,36.8H659.6" stroke="#105e9e" stroke-width="2"/>
<path d="M642,50.4H659.6" stroke="#cf5a2a" stroke-width="2"/>
<path d="M642,65.9H659.6" stroke="#e5b235" stroke-width="2"/>
<path d="M642,81.9H655" stroke="#111" stroke-width="1.6" stroke-dasharray="4.6 4"/>
<text x="660.50" y="25.60" font-size="12.0" font-style="italic" fill="#1a1a1a">&#964;<tspan font-size="9.2" dy="2.1">dyn</tspan></text>
<text x="660.50" y="40.00" font-size="12.0" font-style="italic" fill="#1a1a1a">&#964;<tspan font-size="9.2" dy="1.9">des,spr</tspan></text>
<text x="660.50" y="53.60" font-size="12.0" font-style="italic" fill="#1a1a1a">&#964;<tspan font-size="9.2" dy="2.2">spr</tspan></text>
<path d="M662.9,46.7 L664.5,45.1 L666.1,46.7" stroke="#262626" stroke-width="0.7" fill="none"/>
<text x="661.2" y="70.6" font-size="12" font-style="italic" fill="#262626">B<tspan font-size="9.2" dy="2.0">mot</tspan></text>
<text x="683.3" y="70.6" font-size="12" font-style="italic" fill="#262626">&#952;</text>
<path d="M665.0,61.9 L666.7,60.3 L668.4,61.9" stroke="#262626" stroke-width="0.7" fill="none"/>
<path d="M685.0,59.2 L686.6,57.6 L688.2,59.2" stroke="#262626" stroke-width="0.7" fill="none"/>
<circle cx="685.7" cy="60.6" r="0.62" fill="#262626"/><circle cx="687.8" cy="60.6" r="0.62" fill="#262626"/>
<text x="660.60" y="84.60" font-size="11.20" text-anchor="start" fill="#262626" textLength="35.00" lengthAdjust="spacingAndGlyphs" >seat-off</text>
<rect x="648.40" y="214.60" width="49.60" height="16.70" fill="#fff" stroke="#262626" stroke-width="0.9"/>
<path d="M650.4,222.9H667.8" stroke="#22cc22" stroke-width="2"/>
<text x="669.80" y="226.40" font-size="12.5" font-style="italic" fill="#1a1a1a">&#964;<tspan font-size="9.3" dy="2.0">error</tspan></text>
</svg>
</body></html>
